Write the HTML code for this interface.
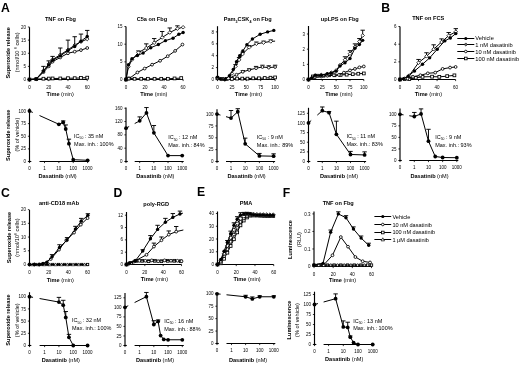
<!DOCTYPE html>
<html><head><meta charset="utf-8"><style>
html,body{margin:0;padding:0;background:#fff;width:520px;height:366px;overflow:hidden}
svg{display:block;will-change:transform;filter:blur(0.3px)}
text{font-family:"Liberation Sans",sans-serif}
</style></head><body>
<svg width="520" height="366" viewBox="0 0 520 366" font-family="Liberation Sans, sans-serif">
<rect width="520" height="366" fill="#fff"/>
<text x="1.10" y="11.70" font-size="12.2" text-anchor="start" font-weight="bold" fill="#000">A</text>
<text x="381.30" y="12.10" font-size="12.2" text-anchor="start" font-weight="bold" fill="#000">B</text>
<text x="1.00" y="197.00" font-size="12.2" text-anchor="start" font-weight="bold" fill="#000">C</text>
<text x="113.40" y="196.60" font-size="12.2" text-anchor="start" font-weight="bold" fill="#000">D</text>
<text x="197.00" y="196.40" font-size="12.2" text-anchor="start" font-weight="bold" fill="#000">E</text>
<text x="282.80" y="196.70" font-size="12.2" text-anchor="start" font-weight="bold" fill="#000">F</text>
<text x="60.50" y="20.80" font-size="5.6" text-anchor="middle" font-weight="bold" fill="#000">TNF on Fbg</text>
<text x="151.90" y="21.40" font-size="5.6" text-anchor="middle" font-weight="bold" fill="#000">C5a on Fbg</text>
<text x="247.7" y="21.4" font-size="5.6" text-anchor="middle" font-weight="bold">Pam<tspan font-size="3.6" dy="1.2">3</tspan><tspan dy="-1.2">CSK</tspan><tspan font-size="3.6" dy="1.2">4</tspan><tspan dy="-1.2"> on Fbg</tspan></text>
<text x="339.80" y="21.40" font-size="5.6" text-anchor="middle" font-weight="bold" fill="#000">upLPS on Fbg</text>
<text x="428.20" y="20.30" font-size="5.6" text-anchor="middle" font-weight="bold" fill="#000">TNF on FCS</text>
<text x="59.00" y="204.60" font-size="5.6" text-anchor="middle" font-weight="bold" fill="#000">anti-CD18 mAb</text>
<text x="156.20" y="205.70" font-size="5.6" text-anchor="middle" font-weight="bold" fill="#000">poly-RGD</text>
<text x="246.00" y="205.30" font-size="5.6" text-anchor="middle" font-weight="bold" fill="#000">PMA</text>
<text x="338.20" y="205.00" font-size="5.6" text-anchor="middle" font-weight="bold" fill="#000">TNF on Fbg</text>
<text x="9.70" y="52.80" font-size="5.6" text-anchor="middle" font-weight="bold" transform="rotate(-90 9.70 52.80)" fill="#000">Superoxide release</text>
<text x="18.7" y="52.4" font-size="5.6" text-anchor="middle" transform="rotate(-90 18.7 52.4)">(nmol/10 <tspan font-size="3.6" dy="-2">6</tspan><tspan dy="2"> cells)</tspan></text>
<text x="10.30" y="135.30" font-size="5.6" text-anchor="middle" font-weight="bold" transform="rotate(-90 10.30 135.30)" fill="#000">Superoxide release</text>
<text x="18.90" y="134.60" font-size="5.6" text-anchor="middle" transform="rotate(-90 18.90 134.60)" fill="#000">(% of vehicle)</text>
<text x="10.60" y="237.50" font-size="5.6" text-anchor="middle" font-weight="bold" transform="rotate(-90 10.60 237.50)" fill="#000">Superoxide release</text>
<text x="19.2" y="237.5" font-size="5.6" text-anchor="middle" transform="rotate(-90 19.2 237.5)">(nmol/10<tspan font-size="3.6" dy="-2">6</tspan><tspan dy="2"> cells)</tspan></text>
<text x="10.30" y="320.00" font-size="5.6" text-anchor="middle" font-weight="bold" transform="rotate(-90 10.30 320.00)" fill="#000">Superoxide release</text>
<text x="18.60" y="320.20" font-size="5.6" text-anchor="middle" transform="rotate(-90 18.60 320.20)" fill="#000">(% of vehicle)</text>
<text x="292.00" y="239.50" font-size="5.6" text-anchor="middle" font-weight="bold" transform="rotate(-90 292.00 239.50)" fill="#000">Luminescence</text>
<text x="300.50" y="239.50" font-size="5.6" text-anchor="middle" transform="rotate(-90 300.50 239.50)" fill="#000">(RLU)</text>
<text x="291.40" y="320.00" font-size="5.6" text-anchor="middle" font-weight="bold" transform="rotate(-90 291.40 320.00)" fill="#000">Luminescence</text>
<text x="298.80" y="320.00" font-size="5.6" text-anchor="middle" transform="rotate(-90 298.80 320.00)" fill="#000">(% of vehicle)</text>
<text x="60.20" y="96.20" font-size="5.6" text-anchor="middle"><tspan font-weight="bold">Time</tspan> (min)</text>
<text x="153.80" y="96.40" font-size="5.6" text-anchor="middle"><tspan font-weight="bold">Time</tspan> (min)</text>
<text x="248.50" y="96.40" font-size="5.6" text-anchor="middle"><tspan font-weight="bold">Time</tspan> (min)</text>
<text x="338.90" y="96.40" font-size="5.6" text-anchor="middle"><tspan font-weight="bold">Time</tspan> (min)</text>
<text x="428.40" y="95.90" font-size="5.6" text-anchor="middle"><tspan font-weight="bold">Time</tspan> (min)</text>
<text x="60.30" y="281.50" font-size="5.6" text-anchor="middle"><tspan font-weight="bold">Time</tspan> (min)</text>
<text x="154.40" y="281.20" font-size="5.6" text-anchor="middle"><tspan font-weight="bold">Time</tspan> (min)</text>
<text x="247.10" y="281.20" font-size="5.6" text-anchor="middle"><tspan font-weight="bold">Time</tspan> (min)</text>
<text x="342.60" y="281.80" font-size="5.6" text-anchor="middle"><tspan font-weight="bold">Time</tspan> (min)</text>
<text x="57.60" y="177.90" font-size="5.6" text-anchor="middle"><tspan font-weight="bold">Dasatinib</tspan> (nM)</text>
<text x="155.30" y="177.90" font-size="5.6" text-anchor="middle"><tspan font-weight="bold">Dasatinib</tspan> (nM)</text>
<text x="246.60" y="177.90" font-size="5.6" text-anchor="middle"><tspan font-weight="bold">Dasatinib</tspan> (nM)</text>
<text x="339.00" y="177.90" font-size="5.6" text-anchor="middle"><tspan font-weight="bold">Dasatinib</tspan> (nM)</text>
<text x="429.50" y="177.90" font-size="5.6" text-anchor="middle"><tspan font-weight="bold">Dasatinib</tspan> (nM)</text>
<text x="60.80" y="362.30" font-size="5.6" text-anchor="middle"><tspan font-weight="bold">Dasatinib</tspan> (nM)</text>
<text x="155.00" y="362.30" font-size="5.6" text-anchor="middle"><tspan font-weight="bold">Dasatinib</tspan> (nM)</text>
<text x="248.10" y="362.00" font-size="5.6" text-anchor="middle"><tspan font-weight="bold">Dasatinib</tspan> (nM)</text>
<text x="344.20" y="361.20" font-size="5.6" text-anchor="middle"><tspan font-weight="bold">Dasatinib</tspan> (nM)</text>
<text x="74.10" y="137.90" font-size="5.5">IC<tspan font-size="3.4" dy="1.3">50</tspan><tspan dy="-1.3"> : 35 nM</tspan></text>
<text x="74.10" y="145.70" font-size="5.5">Max. inh.: 100%</text>
<text x="168.20" y="139.40" font-size="5.5">IC<tspan font-size="3.4" dy="1.3">50</tspan><tspan dy="-1.3"> : 12 nM</tspan></text>
<text x="168.20" y="147.20" font-size="5.5">Max. inh.: 84%</text>
<text x="256.80" y="138.90" font-size="5.5">IC<tspan font-size="3.4" dy="1.3">50</tspan><tspan dy="-1.3"> : 9 nM</tspan></text>
<text x="256.80" y="146.70" font-size="5.5">Max. inh.: 89%</text>
<text x="346.40" y="138.40" font-size="5.5">IC<tspan font-size="3.4" dy="1.3">50</tspan><tspan dy="-1.3"> : 11 nM</tspan></text>
<text x="346.40" y="146.20" font-size="5.5">Max. inh.: 83%</text>
<text x="435.20" y="138.90" font-size="5.5">IC<tspan font-size="3.4" dy="1.3">50</tspan><tspan dy="-1.3"> : 9 nM</tspan></text>
<text x="435.20" y="146.70" font-size="5.5">Max. inh.: 93%</text>
<text x="72.00" y="322.30" font-size="5.5">IC<tspan font-size="3.4" dy="1.3">50</tspan><tspan dy="-1.3"> : 32 nM</tspan></text>
<text x="72.00" y="330.10" font-size="5.5">Max. inh.: 100%</text>
<text x="164.20" y="322.90" font-size="5.5">IC<tspan font-size="3.4" dy="1.3">50</tspan><tspan dy="-1.3"> : 16 nM</tspan></text>
<text x="164.20" y="330.70" font-size="5.5">Max. inh.: 88%</text>
<text x="353.20" y="322.50" font-size="5.5">IC<tspan font-size="3.4" dy="1.3">50</tspan><tspan dy="-1.3"> : 13 nM</tspan></text>
<text x="353.20" y="330.30" font-size="5.5">Max. inh.: 100%</text>
<line x1="457.30" y1="38.50" x2="474.30" y2="38.50" stroke="#000" stroke-width="1.0"/>
<circle cx="465.80" cy="38.50" r="1.60" fill="#000"/>
<text x="475.30" y="40.30" font-size="5.75" text-anchor="start" fill="#000">Vehicle</text>
<line x1="457.30" y1="44.50" x2="474.30" y2="44.50" stroke="#000" stroke-width="1.0"/>
<polygon points="465.80,42.90 467.40,44.50 465.80,46.10 464.20,44.50" fill="#666" stroke="#000" stroke-width="0.6"/>
<text x="475.30" y="47.00" font-size="5.75" text-anchor="start" fill="#000">1 nM dasatinib</text>
<line x1="457.30" y1="51.50" x2="474.30" y2="51.50" stroke="#000" stroke-width="1.0"/>
<circle cx="465.80" cy="51.50" r="1.30" fill="#fff" stroke="#000" stroke-width="0.85"/>
<text x="475.30" y="53.80" font-size="5.75" text-anchor="start" fill="#000">10 nM dasatinib</text>
<line x1="457.30" y1="58.50" x2="474.30" y2="58.50" stroke="#000" stroke-width="1.0"/>
<rect x="464.50" y="57.20" width="2.60" height="2.60" fill="#fff" stroke="#000" stroke-width="0.85"/>
<text x="475.30" y="60.60" font-size="5.75" text-anchor="start" fill="#000">100 nM dasatinib</text>
<line x1="374.40" y1="216.50" x2="391.20" y2="216.50" stroke="#000" stroke-width="1.0"/>
<circle cx="382.80" cy="216.50" r="1.60" fill="#000"/>
<text x="392.40" y="219.00" font-size="5.6" text-anchor="start" fill="#000">Vehicle</text>
<line x1="374.40" y1="224.50" x2="391.20" y2="224.50" stroke="#000" stroke-width="1.0"/>
<circle cx="382.80" cy="224.50" r="1.30" fill="#fff" stroke="#000" stroke-width="0.85"/>
<text x="392.40" y="226.50" font-size="5.6" text-anchor="start" fill="#000">10 nM dasatinib</text>
<line x1="374.40" y1="232.50" x2="391.20" y2="232.50" stroke="#000" stroke-width="1.0"/>
<rect x="381.50" y="231.20" width="2.60" height="2.60" fill="#fff" stroke="#000" stroke-width="0.85"/>
<text x="392.40" y="234.10" font-size="5.6" text-anchor="start" fill="#000">100 nM dasatinib</text>
<line x1="374.40" y1="239.50" x2="391.20" y2="239.50" stroke="#000" stroke-width="1.0"/>
<polygon points="382.80,237.80 384.50,240.86 381.10,240.86" fill="#fff" stroke="#000" stroke-width="0.7"/>
<text x="392.40" y="241.70" font-size="5.6" text-anchor="start" fill="#000">1 &#956;M dasatinib</text>
<line x1="29.50" y1="27.20" x2="29.50" y2="80.10" stroke="#000" stroke-width="1.15"/>
<line x1="28.90" y1="79.50" x2="87.22" y2="79.50" stroke="#000" stroke-width="1.15"/>
<line x1="27.90" y1="79.50" x2="29.50" y2="79.50" stroke="#000" stroke-width="0.8"/>
<text x="26.10" y="81.10" font-size="4.5" text-anchor="end" fill="#000">0</text>
<line x1="27.90" y1="66.38" x2="29.50" y2="66.38" stroke="#000" stroke-width="0.8"/>
<text x="26.10" y="67.97" font-size="4.5" text-anchor="end" fill="#000">5</text>
<line x1="27.90" y1="53.25" x2="29.50" y2="53.25" stroke="#000" stroke-width="0.8"/>
<text x="26.10" y="54.85" font-size="4.5" text-anchor="end" fill="#000">10</text>
<line x1="27.90" y1="40.12" x2="29.50" y2="40.12" stroke="#000" stroke-width="0.8"/>
<text x="26.10" y="41.73" font-size="4.5" text-anchor="end" fill="#000">15</text>
<line x1="27.90" y1="27.00" x2="29.50" y2="27.00" stroke="#000" stroke-width="0.8"/>
<text x="26.10" y="28.60" font-size="4.5" text-anchor="end" fill="#000">20</text>
<line x1="29.50" y1="79.50" x2="29.50" y2="81.10" stroke="#000" stroke-width="0.8"/>
<text x="29.50" y="88.60" font-size="4.5" text-anchor="middle" fill="#000">0</text>
<line x1="48.74" y1="79.50" x2="48.74" y2="81.10" stroke="#000" stroke-width="0.8"/>
<text x="48.74" y="88.60" font-size="4.5" text-anchor="middle" fill="#000">20</text>
<line x1="67.98" y1="79.50" x2="67.98" y2="81.10" stroke="#000" stroke-width="0.8"/>
<text x="67.98" y="88.60" font-size="4.5" text-anchor="middle" fill="#000">40</text>
<line x1="87.22" y1="79.50" x2="87.22" y2="81.10" stroke="#000" stroke-width="0.8"/>
<text x="87.22" y="88.60" font-size="4.5" text-anchor="middle" fill="#000">60</text>
<polyline points="29.50,79.50 36.23,79.11 43.45,78.71 48.74,78.58 52.59,78.45 60.28,78.45 67.98,78.19 74.71,78.19 80.97,77.92 87.22,77.66" fill="none" stroke="#000" stroke-width="1.0" stroke-linejoin="round"/>
<rect x="28.10" y="78.10" width="2.80" height="2.80" fill="#fff" stroke="#000" stroke-width="0.85"/>
<rect x="34.83" y="77.71" width="2.80" height="2.80" fill="#fff" stroke="#000" stroke-width="0.85"/>
<rect x="42.05" y="77.31" width="2.80" height="2.80" fill="#fff" stroke="#000" stroke-width="0.85"/>
<rect x="47.34" y="77.18" width="2.80" height="2.80" fill="#fff" stroke="#000" stroke-width="0.85"/>
<rect x="51.19" y="77.05" width="2.80" height="2.80" fill="#fff" stroke="#000" stroke-width="0.85"/>
<rect x="58.88" y="77.05" width="2.80" height="2.80" fill="#fff" stroke="#000" stroke-width="0.85"/>
<rect x="66.58" y="76.79" width="2.80" height="2.80" fill="#fff" stroke="#000" stroke-width="0.85"/>
<rect x="73.31" y="76.79" width="2.80" height="2.80" fill="#fff" stroke="#000" stroke-width="0.85"/>
<rect x="79.57" y="76.52" width="2.80" height="2.80" fill="#fff" stroke="#000" stroke-width="0.85"/>
<rect x="85.82" y="76.26" width="2.80" height="2.80" fill="#fff" stroke="#000" stroke-width="0.85"/>
<polyline points="29.50,79.50 36.23,79.24 43.45,72.15 48.74,66.38 52.59,61.65 60.28,57.45 67.98,53.25 74.71,51.67 80.97,50.10 87.22,48.00" fill="none" stroke="#000" stroke-width="1.0" stroke-linejoin="round"/>
<circle cx="29.50" cy="79.50" r="1.40" fill="#fff" stroke="#000" stroke-width="0.85"/>
<circle cx="36.23" cy="79.24" r="1.40" fill="#fff" stroke="#000" stroke-width="0.85"/>
<circle cx="43.45" cy="72.15" r="1.40" fill="#fff" stroke="#000" stroke-width="0.85"/>
<circle cx="48.74" cy="66.38" r="1.40" fill="#fff" stroke="#000" stroke-width="0.85"/>
<circle cx="52.59" cy="61.65" r="1.40" fill="#fff" stroke="#000" stroke-width="0.85"/>
<circle cx="60.28" cy="57.45" r="1.40" fill="#fff" stroke="#000" stroke-width="0.85"/>
<circle cx="67.98" cy="53.25" r="1.40" fill="#fff" stroke="#000" stroke-width="0.85"/>
<circle cx="74.71" cy="51.67" r="1.40" fill="#fff" stroke="#000" stroke-width="0.85"/>
<circle cx="80.97" cy="50.10" r="1.40" fill="#fff" stroke="#000" stroke-width="0.85"/>
<circle cx="87.22" cy="48.00" r="1.40" fill="#fff" stroke="#000" stroke-width="0.85"/>
<polyline points="29.50,79.50 36.23,78.97 43.45,70.84 48.74,64.01 52.59,59.55 60.28,54.83 67.98,49.84 74.71,45.11 80.97,41.70 87.22,39.07" fill="none" stroke="#000" stroke-width="1.0" stroke-linejoin="round"/>
<polygon points="29.50,77.70 31.30,79.50 29.50,81.30 27.70,79.50" fill="#fff" stroke="#000" stroke-width="0.75"/>
<polygon points="36.23,77.17 38.03,78.97 36.23,80.77 34.43,78.97" fill="#fff" stroke="#000" stroke-width="0.75"/>
<polygon points="43.45,69.04 45.25,70.84 43.45,72.64 41.65,70.84" fill="#fff" stroke="#000" stroke-width="0.75"/>
<polygon points="48.74,62.21 50.54,64.01 48.74,65.81 46.94,64.01" fill="#fff" stroke="#000" stroke-width="0.75"/>
<polygon points="52.59,57.75 54.39,59.55 52.59,61.35 50.79,59.55" fill="#fff" stroke="#000" stroke-width="0.75"/>
<polygon points="60.28,53.03 62.08,54.83 60.28,56.62 58.48,54.83" fill="#fff" stroke="#000" stroke-width="0.75"/>
<polygon points="67.98,48.04 69.78,49.84 67.98,51.64 66.18,49.84" fill="#fff" stroke="#000" stroke-width="0.75"/>
<polygon points="74.71,43.31 76.51,45.11 74.71,46.91 72.91,45.11" fill="#fff" stroke="#000" stroke-width="0.75"/>
<polygon points="80.97,39.90 82.77,41.70 80.97,43.50 79.17,41.70" fill="#fff" stroke="#000" stroke-width="0.75"/>
<polygon points="87.22,37.27 89.02,39.07 87.22,40.87 85.42,39.07" fill="#fff" stroke="#000" stroke-width="0.75"/>
<line x1="43.45" y1="71.10" x2="43.45" y2="66.38" stroke="#000" stroke-width="0.95"/>
<line x1="41.25" y1="66.38" x2="45.65" y2="66.38" stroke="#000" stroke-width="0.95"/>
<line x1="48.74" y1="65.06" x2="48.74" y2="60.86" stroke="#000" stroke-width="0.95"/>
<line x1="46.54" y1="60.86" x2="50.94" y2="60.86" stroke="#000" stroke-width="0.95"/>
<line x1="52.59" y1="60.34" x2="52.59" y2="56.40" stroke="#000" stroke-width="0.95"/>
<line x1="50.39" y1="56.40" x2="54.79" y2="56.40" stroke="#000" stroke-width="0.95"/>
<line x1="60.28" y1="55.88" x2="60.28" y2="48.00" stroke="#000" stroke-width="0.95"/>
<line x1="58.08" y1="48.00" x2="62.48" y2="48.00" stroke="#000" stroke-width="0.95"/>
<line x1="67.98" y1="50.62" x2="67.98" y2="40.12" stroke="#000" stroke-width="0.95"/>
<line x1="65.78" y1="40.12" x2="70.18" y2="40.12" stroke="#000" stroke-width="0.95"/>
<line x1="74.71" y1="46.43" x2="74.71" y2="36.71" stroke="#000" stroke-width="0.95"/>
<line x1="72.51" y1="36.71" x2="76.91" y2="36.71" stroke="#000" stroke-width="0.95"/>
<line x1="80.97" y1="41.18" x2="80.97" y2="34.09" stroke="#000" stroke-width="0.95"/>
<line x1="78.77" y1="34.09" x2="83.17" y2="34.09" stroke="#000" stroke-width="0.95"/>
<line x1="87.22" y1="36.45" x2="87.22" y2="30.41" stroke="#000" stroke-width="0.95"/>
<line x1="85.02" y1="30.41" x2="89.42" y2="30.41" stroke="#000" stroke-width="0.95"/>
<polyline points="29.50,79.50 36.23,78.97 43.45,71.10 48.74,65.06 52.59,60.34 60.28,55.88 67.98,50.62 74.71,46.43 80.97,41.18 87.22,36.45" fill="none" stroke="#000" stroke-width="1.0" stroke-linejoin="round"/>
<circle cx="29.50" cy="79.50" r="1.70" fill="#000"/>
<circle cx="36.23" cy="78.97" r="1.70" fill="#000"/>
<circle cx="43.45" cy="71.10" r="1.70" fill="#000"/>
<circle cx="48.74" cy="65.06" r="1.70" fill="#000"/>
<circle cx="52.59" cy="60.34" r="1.70" fill="#000"/>
<circle cx="60.28" cy="55.88" r="1.70" fill="#000"/>
<circle cx="67.98" cy="50.62" r="1.70" fill="#000"/>
<circle cx="74.71" cy="46.43" r="1.70" fill="#000"/>
<circle cx="80.97" cy="41.18" r="1.70" fill="#000"/>
<circle cx="87.22" cy="36.45" r="1.70" fill="#000"/>
<line x1="126.00" y1="26.40" x2="126.00" y2="80.10" stroke="#000" stroke-width="1.15"/>
<line x1="125.40" y1="79.50" x2="183.12" y2="79.50" stroke="#000" stroke-width="1.15"/>
<line x1="124.40" y1="79.50" x2="126.00" y2="79.50" stroke="#000" stroke-width="0.8"/>
<text x="122.60" y="81.10" font-size="4.5" text-anchor="end" fill="#000">0</text>
<line x1="124.40" y1="61.85" x2="126.00" y2="61.85" stroke="#000" stroke-width="0.8"/>
<text x="122.60" y="63.45" font-size="4.5" text-anchor="end" fill="#000">5</text>
<line x1="124.40" y1="44.20" x2="126.00" y2="44.20" stroke="#000" stroke-width="0.8"/>
<text x="122.60" y="45.80" font-size="4.5" text-anchor="end" fill="#000">10</text>
<line x1="124.40" y1="26.55" x2="126.00" y2="26.55" stroke="#000" stroke-width="0.8"/>
<text x="122.60" y="28.15" font-size="4.5" text-anchor="end" fill="#000">15</text>
<line x1="126.00" y1="79.50" x2="126.00" y2="81.10" stroke="#000" stroke-width="0.8"/>
<text x="126.00" y="88.60" font-size="4.5" text-anchor="middle" fill="#000">0</text>
<line x1="145.04" y1="79.50" x2="145.04" y2="81.10" stroke="#000" stroke-width="0.8"/>
<text x="145.04" y="88.60" font-size="4.5" text-anchor="middle" fill="#000">20</text>
<line x1="164.08" y1="79.50" x2="164.08" y2="81.10" stroke="#000" stroke-width="0.8"/>
<text x="164.08" y="88.60" font-size="4.5" text-anchor="middle" fill="#000">40</text>
<line x1="183.12" y1="79.50" x2="183.12" y2="81.10" stroke="#000" stroke-width="0.8"/>
<text x="183.12" y="88.60" font-size="4.5" text-anchor="middle" fill="#000">60</text>
<polyline points="126.00,79.50 128.86,78.44 134.57,78.79 141.23,78.79 147.90,78.79 154.56,78.79 161.22,78.79 167.89,78.79 174.55,78.44 181.22,78.09" fill="none" stroke="#000" stroke-width="1.0" stroke-linejoin="round"/>
<rect x="124.60" y="78.10" width="2.80" height="2.80" fill="#fff" stroke="#000" stroke-width="0.85"/>
<rect x="127.46" y="77.04" width="2.80" height="2.80" fill="#fff" stroke="#000" stroke-width="0.85"/>
<rect x="133.17" y="77.39" width="2.80" height="2.80" fill="#fff" stroke="#000" stroke-width="0.85"/>
<rect x="139.83" y="77.39" width="2.80" height="2.80" fill="#fff" stroke="#000" stroke-width="0.85"/>
<rect x="146.50" y="77.39" width="2.80" height="2.80" fill="#fff" stroke="#000" stroke-width="0.85"/>
<rect x="153.16" y="77.39" width="2.80" height="2.80" fill="#fff" stroke="#000" stroke-width="0.85"/>
<rect x="159.82" y="77.39" width="2.80" height="2.80" fill="#fff" stroke="#000" stroke-width="0.85"/>
<rect x="166.49" y="77.39" width="2.80" height="2.80" fill="#fff" stroke="#000" stroke-width="0.85"/>
<rect x="173.15" y="77.04" width="2.80" height="2.80" fill="#fff" stroke="#000" stroke-width="0.85"/>
<rect x="179.82" y="76.69" width="2.80" height="2.80" fill="#fff" stroke="#000" stroke-width="0.85"/>
<polyline points="126.00,79.50 128.86,78.79 137.42,72.44 144.66,68.56 152.08,64.67 160.08,60.79 167.70,56.20 175.12,50.91 182.45,44.55" fill="none" stroke="#000" stroke-width="1.0" stroke-linejoin="round"/>
<circle cx="126.00" cy="79.50" r="1.40" fill="#fff" stroke="#000" stroke-width="0.85"/>
<circle cx="128.86" cy="78.79" r="1.40" fill="#fff" stroke="#000" stroke-width="0.85"/>
<circle cx="137.42" cy="72.44" r="1.40" fill="#fff" stroke="#000" stroke-width="0.85"/>
<circle cx="144.66" cy="68.56" r="1.40" fill="#fff" stroke="#000" stroke-width="0.85"/>
<circle cx="152.08" cy="64.67" r="1.40" fill="#fff" stroke="#000" stroke-width="0.85"/>
<circle cx="160.08" cy="60.79" r="1.40" fill="#fff" stroke="#000" stroke-width="0.85"/>
<circle cx="167.70" cy="56.20" r="1.40" fill="#fff" stroke="#000" stroke-width="0.85"/>
<circle cx="175.12" cy="50.91" r="1.40" fill="#fff" stroke="#000" stroke-width="0.85"/>
<circle cx="182.45" cy="44.55" r="1.40" fill="#fff" stroke="#000" stroke-width="0.85"/>
<line x1="138.38" y1="52.67" x2="138.38" y2="50.91" stroke="#000" stroke-width="0.95"/>
<line x1="136.18" y1="50.91" x2="140.58" y2="50.91" stroke="#000" stroke-width="0.95"/>
<line x1="146.28" y1="48.08" x2="146.28" y2="43.85" stroke="#000" stroke-width="0.95"/>
<line x1="144.08" y1="43.85" x2="148.48" y2="43.85" stroke="#000" stroke-width="0.95"/>
<line x1="154.18" y1="42.79" x2="154.18" y2="38.55" stroke="#000" stroke-width="0.95"/>
<line x1="151.98" y1="38.55" x2="156.38" y2="38.55" stroke="#000" stroke-width="0.95"/>
<line x1="162.18" y1="37.49" x2="162.18" y2="31.49" stroke="#000" stroke-width="0.95"/>
<line x1="159.98" y1="31.49" x2="164.38" y2="31.49" stroke="#000" stroke-width="0.95"/>
<line x1="169.79" y1="32.55" x2="169.79" y2="27.96" stroke="#000" stroke-width="0.95"/>
<line x1="167.59" y1="27.96" x2="171.99" y2="27.96" stroke="#000" stroke-width="0.95"/>
<line x1="177.41" y1="28.67" x2="177.41" y2="25.84" stroke="#000" stroke-width="0.95"/>
<line x1="175.21" y1="25.84" x2="179.61" y2="25.84" stroke="#000" stroke-width="0.95"/>
<polyline points="126.00,79.50 128.48,66.79 132.00,59.73 138.38,52.67 146.28,48.08 154.18,42.79 162.18,37.49 169.79,32.55 177.41,28.67 183.12,27.26" fill="none" stroke="#000" stroke-width="1.0" stroke-linejoin="round"/>
<polygon points="126.00,77.70 127.80,79.50 126.00,81.30 124.20,79.50" fill="#fff" stroke="#000" stroke-width="0.75"/>
<polygon points="128.48,64.99 130.28,66.79 128.48,68.59 126.68,66.79" fill="#fff" stroke="#000" stroke-width="0.75"/>
<polygon points="132.00,57.93 133.80,59.73 132.00,61.53 130.20,59.73" fill="#fff" stroke="#000" stroke-width="0.75"/>
<polygon points="138.38,50.87 140.18,52.67 138.38,54.47 136.58,52.67" fill="#fff" stroke="#000" stroke-width="0.75"/>
<polygon points="146.28,46.28 148.08,48.08 146.28,49.88 144.48,48.08" fill="#fff" stroke="#000" stroke-width="0.75"/>
<polygon points="154.18,40.99 155.98,42.79 154.18,44.59 152.38,42.79" fill="#fff" stroke="#000" stroke-width="0.75"/>
<polygon points="162.18,35.69 163.98,37.49 162.18,39.29 160.38,37.49" fill="#fff" stroke="#000" stroke-width="0.75"/>
<polygon points="169.79,30.75 171.59,32.55 169.79,34.35 167.99,32.55" fill="#fff" stroke="#000" stroke-width="0.75"/>
<polygon points="177.41,26.87 179.21,28.67 177.41,30.47 175.61,28.67" fill="#fff" stroke="#000" stroke-width="0.75"/>
<polygon points="183.12,25.46 184.92,27.26 183.12,29.06 181.32,27.26" fill="#fff" stroke="#000" stroke-width="0.75"/>
<polyline points="126.00,79.50 128.48,64.67 132.00,58.67 137.42,55.50 143.14,53.03 150.75,47.73 158.37,44.55 165.41,40.67 173.03,38.20 178.84,34.32 183.12,32.55" fill="none" stroke="#000" stroke-width="1.0" stroke-linejoin="round"/>
<circle cx="126.00" cy="79.50" r="1.70" fill="#000"/>
<circle cx="128.48" cy="64.67" r="1.70" fill="#000"/>
<circle cx="132.00" cy="58.67" r="1.70" fill="#000"/>
<circle cx="137.42" cy="55.50" r="1.70" fill="#000"/>
<circle cx="143.14" cy="53.03" r="1.70" fill="#000"/>
<circle cx="150.75" cy="47.73" r="1.70" fill="#000"/>
<circle cx="158.37" cy="44.55" r="1.70" fill="#000"/>
<circle cx="165.41" cy="40.67" r="1.70" fill="#000"/>
<circle cx="173.03" cy="38.20" r="1.70" fill="#000"/>
<circle cx="178.84" cy="34.32" r="1.70" fill="#000"/>
<circle cx="183.12" cy="32.55" r="1.70" fill="#000"/>
<line x1="217.50" y1="26.20" x2="217.50" y2="80.10" stroke="#000" stroke-width="1.15"/>
<line x1="216.90" y1="79.50" x2="275.10" y2="79.50" stroke="#000" stroke-width="1.15"/>
<line x1="215.90" y1="79.50" x2="217.50" y2="79.50" stroke="#000" stroke-width="0.8"/>
<text x="214.10" y="81.10" font-size="4.5" text-anchor="end" fill="#000">0</text>
<line x1="215.90" y1="67.60" x2="217.50" y2="67.60" stroke="#000" stroke-width="0.8"/>
<text x="214.10" y="69.20" font-size="4.5" text-anchor="end" fill="#000">2</text>
<line x1="215.90" y1="55.70" x2="217.50" y2="55.70" stroke="#000" stroke-width="0.8"/>
<text x="214.10" y="57.30" font-size="4.5" text-anchor="end" fill="#000">4</text>
<line x1="215.90" y1="43.80" x2="217.50" y2="43.80" stroke="#000" stroke-width="0.8"/>
<text x="214.10" y="45.40" font-size="4.5" text-anchor="end" fill="#000">6</text>
<line x1="215.90" y1="31.90" x2="217.50" y2="31.90" stroke="#000" stroke-width="0.8"/>
<text x="214.10" y="33.50" font-size="4.5" text-anchor="end" fill="#000">8</text>
<line x1="217.50" y1="79.50" x2="217.50" y2="81.10" stroke="#000" stroke-width="0.8"/>
<text x="217.50" y="88.60" font-size="4.5" text-anchor="middle" fill="#000">0</text>
<line x1="231.90" y1="79.50" x2="231.90" y2="81.10" stroke="#000" stroke-width="0.8"/>
<text x="231.90" y="88.60" font-size="4.5" text-anchor="middle" fill="#000">25</text>
<line x1="246.30" y1="79.50" x2="246.30" y2="81.10" stroke="#000" stroke-width="0.8"/>
<text x="246.30" y="88.60" font-size="4.5" text-anchor="middle" fill="#000">50</text>
<line x1="260.70" y1="79.50" x2="260.70" y2="81.10" stroke="#000" stroke-width="0.8"/>
<text x="260.70" y="88.60" font-size="4.5" text-anchor="middle" fill="#000">75</text>
<line x1="275.10" y1="79.50" x2="275.10" y2="81.10" stroke="#000" stroke-width="0.8"/>
<text x="275.10" y="88.60" font-size="4.5" text-anchor="middle" fill="#000">100</text>
<polyline points="217.50,78.31 222.11,78.91 226.72,78.91 231.90,78.91 237.08,78.61 242.27,78.61 247.45,78.61 253.21,78.31 258.97,78.31 264.73,78.01 270.49,77.72 275.10,77.42" fill="none" stroke="#000" stroke-width="1.0" stroke-linejoin="round"/>
<rect x="216.10" y="76.91" width="2.80" height="2.80" fill="#fff" stroke="#000" stroke-width="0.85"/>
<rect x="220.71" y="77.50" width="2.80" height="2.80" fill="#fff" stroke="#000" stroke-width="0.85"/>
<rect x="225.32" y="77.50" width="2.80" height="2.80" fill="#fff" stroke="#000" stroke-width="0.85"/>
<rect x="230.50" y="77.50" width="2.80" height="2.80" fill="#fff" stroke="#000" stroke-width="0.85"/>
<rect x="235.68" y="77.21" width="2.80" height="2.80" fill="#fff" stroke="#000" stroke-width="0.85"/>
<rect x="240.87" y="77.21" width="2.80" height="2.80" fill="#fff" stroke="#000" stroke-width="0.85"/>
<rect x="246.05" y="77.21" width="2.80" height="2.80" fill="#fff" stroke="#000" stroke-width="0.85"/>
<rect x="251.81" y="76.91" width="2.80" height="2.80" fill="#fff" stroke="#000" stroke-width="0.85"/>
<rect x="257.57" y="76.91" width="2.80" height="2.80" fill="#fff" stroke="#000" stroke-width="0.85"/>
<rect x="263.33" y="76.61" width="2.80" height="2.80" fill="#fff" stroke="#000" stroke-width="0.85"/>
<rect x="269.09" y="76.31" width="2.80" height="2.80" fill="#fff" stroke="#000" stroke-width="0.85"/>
<rect x="273.70" y="76.02" width="2.80" height="2.80" fill="#fff" stroke="#000" stroke-width="0.85"/>
<line x1="242.84" y1="71.77" x2="242.84" y2="70.58" stroke="#000" stroke-width="0.95"/>
<line x1="240.64" y1="70.58" x2="245.04" y2="70.58" stroke="#000" stroke-width="0.95"/>
<line x1="249.18" y1="69.98" x2="249.18" y2="68.79" stroke="#000" stroke-width="0.95"/>
<line x1="246.98" y1="68.79" x2="251.38" y2="68.79" stroke="#000" stroke-width="0.95"/>
<line x1="256.09" y1="68.19" x2="256.09" y2="66.41" stroke="#000" stroke-width="0.95"/>
<line x1="253.89" y1="66.41" x2="258.29" y2="66.41" stroke="#000" stroke-width="0.95"/>
<line x1="262.43" y1="67.00" x2="262.43" y2="65.22" stroke="#000" stroke-width="0.95"/>
<line x1="260.23" y1="65.22" x2="264.63" y2="65.22" stroke="#000" stroke-width="0.95"/>
<line x1="268.76" y1="67.60" x2="268.76" y2="65.81" stroke="#000" stroke-width="0.95"/>
<line x1="266.56" y1="65.81" x2="270.96" y2="65.81" stroke="#000" stroke-width="0.95"/>
<line x1="275.10" y1="67.00" x2="275.10" y2="65.22" stroke="#000" stroke-width="0.95"/>
<line x1="272.90" y1="65.22" x2="277.30" y2="65.22" stroke="#000" stroke-width="0.95"/>
<polyline points="217.50,78.31 223.26,78.91 229.02,78.31 236.51,74.74 242.84,71.77 249.18,69.98 256.09,68.19 262.43,67.00 268.76,67.60 275.10,67.00" fill="none" stroke="#000" stroke-width="1.0" stroke-linejoin="round"/>
<circle cx="217.50" cy="78.31" r="1.40" fill="#fff" stroke="#000" stroke-width="0.85"/>
<circle cx="223.26" cy="78.91" r="1.40" fill="#fff" stroke="#000" stroke-width="0.85"/>
<circle cx="229.02" cy="78.31" r="1.40" fill="#fff" stroke="#000" stroke-width="0.85"/>
<circle cx="236.51" cy="74.74" r="1.40" fill="#fff" stroke="#000" stroke-width="0.85"/>
<circle cx="242.84" cy="71.77" r="1.40" fill="#fff" stroke="#000" stroke-width="0.85"/>
<circle cx="249.18" cy="69.98" r="1.40" fill="#fff" stroke="#000" stroke-width="0.85"/>
<circle cx="256.09" cy="68.19" r="1.40" fill="#fff" stroke="#000" stroke-width="0.85"/>
<circle cx="262.43" cy="67.00" r="1.40" fill="#fff" stroke="#000" stroke-width="0.85"/>
<circle cx="268.76" cy="67.60" r="1.40" fill="#fff" stroke="#000" stroke-width="0.85"/>
<circle cx="275.10" cy="67.00" r="1.40" fill="#fff" stroke="#000" stroke-width="0.85"/>
<line x1="235.50" y1="66.41" x2="235.50" y2="64.62" stroke="#000" stroke-width="0.95"/>
<line x1="233.30" y1="64.62" x2="237.70" y2="64.62" stroke="#000" stroke-width="0.95"/>
<line x1="239.10" y1="59.87" x2="239.10" y2="57.48" stroke="#000" stroke-width="0.95"/>
<line x1="236.90" y1="57.48" x2="241.30" y2="57.48" stroke="#000" stroke-width="0.95"/>
<line x1="242.70" y1="53.91" x2="242.70" y2="52.13" stroke="#000" stroke-width="0.95"/>
<line x1="240.50" y1="52.13" x2="244.90" y2="52.13" stroke="#000" stroke-width="0.95"/>
<line x1="249.18" y1="47.37" x2="249.18" y2="45.59" stroke="#000" stroke-width="0.95"/>
<line x1="246.98" y1="45.59" x2="251.38" y2="45.59" stroke="#000" stroke-width="0.95"/>
<line x1="256.38" y1="43.80" x2="256.38" y2="42.02" stroke="#000" stroke-width="0.95"/>
<line x1="254.18" y1="42.02" x2="258.58" y2="42.02" stroke="#000" stroke-width="0.95"/>
<line x1="263.58" y1="42.61" x2="263.58" y2="41.12" stroke="#000" stroke-width="0.95"/>
<line x1="261.38" y1="41.12" x2="265.78" y2="41.12" stroke="#000" stroke-width="0.95"/>
<line x1="270.78" y1="41.42" x2="270.78" y2="39.93" stroke="#000" stroke-width="0.95"/>
<line x1="268.58" y1="39.93" x2="272.98" y2="39.93" stroke="#000" stroke-width="0.95"/>
<polyline points="217.50,77.72 221.10,78.91 224.70,79.50 228.30,78.31 231.90,73.55 235.50,66.41 239.10,59.87 242.70,53.91 249.18,47.37 256.38,43.80 263.58,42.61 270.78,41.42 275.10,41.12" fill="none" stroke="#000" stroke-width="1.0" stroke-linejoin="round"/>
<polygon points="217.50,75.92 219.30,77.72 217.50,79.52 215.70,77.72" fill="#fff" stroke="#000" stroke-width="0.75"/>
<polygon points="221.10,77.11 222.90,78.91 221.10,80.70 219.30,78.91" fill="#fff" stroke="#000" stroke-width="0.75"/>
<polygon points="224.70,77.70 226.50,79.50 224.70,81.30 222.90,79.50" fill="#fff" stroke="#000" stroke-width="0.75"/>
<polygon points="228.30,76.51 230.10,78.31 228.30,80.11 226.50,78.31" fill="#fff" stroke="#000" stroke-width="0.75"/>
<polygon points="231.90,71.75 233.70,73.55 231.90,75.35 230.10,73.55" fill="#fff" stroke="#000" stroke-width="0.75"/>
<polygon points="235.50,64.61 237.30,66.41 235.50,68.21 233.70,66.41" fill="#fff" stroke="#000" stroke-width="0.75"/>
<polygon points="239.10,58.07 240.90,59.87 239.10,61.66 237.30,59.87" fill="#fff" stroke="#000" stroke-width="0.75"/>
<polygon points="242.70,52.12 244.50,53.91 242.70,55.71 240.90,53.91" fill="#fff" stroke="#000" stroke-width="0.75"/>
<polygon points="249.18,45.57 250.98,47.37 249.18,49.17 247.38,47.37" fill="#fff" stroke="#000" stroke-width="0.75"/>
<polygon points="256.38,42.00 258.18,43.80 256.38,45.60 254.58,43.80" fill="#fff" stroke="#000" stroke-width="0.75"/>
<polygon points="263.58,40.81 265.38,42.61 263.58,44.41 261.78,42.61" fill="#fff" stroke="#000" stroke-width="0.75"/>
<polygon points="270.78,39.62 272.58,41.42 270.78,43.22 268.98,41.42" fill="#fff" stroke="#000" stroke-width="0.75"/>
<polyline points="217.50,77.12 220.38,78.91 224.99,79.50 229.42,75.69 233.28,69.39 236.51,61.65 239.68,55.70 242.84,50.94 246.88,44.69 252.41,39.04 260.12,34.28 267.61,31.90 273.78,30.41" fill="none" stroke="#000" stroke-width="1.0" stroke-linejoin="round"/>
<circle cx="217.50" cy="77.12" r="1.70" fill="#000"/>
<circle cx="220.38" cy="78.91" r="1.70" fill="#000"/>
<circle cx="224.99" cy="79.50" r="1.70" fill="#000"/>
<circle cx="229.42" cy="75.69" r="1.70" fill="#000"/>
<circle cx="233.28" cy="69.39" r="1.70" fill="#000"/>
<circle cx="236.51" cy="61.65" r="1.70" fill="#000"/>
<circle cx="239.68" cy="55.70" r="1.70" fill="#000"/>
<circle cx="242.84" cy="50.94" r="1.70" fill="#000"/>
<circle cx="246.88" cy="44.69" r="1.70" fill="#000"/>
<circle cx="252.41" cy="39.04" r="1.70" fill="#000"/>
<circle cx="260.12" cy="34.28" r="1.70" fill="#000"/>
<circle cx="267.61" cy="31.90" r="1.70" fill="#000"/>
<circle cx="273.78" cy="30.41" r="1.70" fill="#000"/>
<line x1="308.50" y1="26.00" x2="308.50" y2="80.10" stroke="#000" stroke-width="1.15"/>
<line x1="307.90" y1="79.50" x2="363.80" y2="79.50" stroke="#000" stroke-width="1.15"/>
<line x1="306.90" y1="79.50" x2="308.50" y2="79.50" stroke="#000" stroke-width="0.8"/>
<text x="305.10" y="81.10" font-size="4.5" text-anchor="end" fill="#000">0</text>
<line x1="306.90" y1="64.33" x2="308.50" y2="64.33" stroke="#000" stroke-width="0.8"/>
<text x="305.10" y="65.93" font-size="4.5" text-anchor="end" fill="#000">1</text>
<line x1="306.90" y1="49.16" x2="308.50" y2="49.16" stroke="#000" stroke-width="0.8"/>
<text x="305.10" y="50.76" font-size="4.5" text-anchor="end" fill="#000">2</text>
<line x1="306.90" y1="33.99" x2="308.50" y2="33.99" stroke="#000" stroke-width="0.8"/>
<text x="305.10" y="35.59" font-size="4.5" text-anchor="end" fill="#000">3</text>
<line x1="308.50" y1="79.50" x2="308.50" y2="81.10" stroke="#000" stroke-width="0.8"/>
<text x="308.50" y="88.60" font-size="4.5" text-anchor="middle" fill="#000">0</text>
<line x1="322.32" y1="79.50" x2="322.32" y2="81.10" stroke="#000" stroke-width="0.8"/>
<text x="322.32" y="88.60" font-size="4.5" text-anchor="middle" fill="#000">25</text>
<line x1="336.15" y1="79.50" x2="336.15" y2="81.10" stroke="#000" stroke-width="0.8"/>
<text x="336.15" y="88.60" font-size="4.5" text-anchor="middle" fill="#000">50</text>
<line x1="349.98" y1="79.50" x2="349.98" y2="81.10" stroke="#000" stroke-width="0.8"/>
<text x="349.98" y="88.60" font-size="4.5" text-anchor="middle" fill="#000">75</text>
<line x1="363.80" y1="79.50" x2="363.80" y2="81.10" stroke="#000" stroke-width="0.8"/>
<text x="363.80" y="88.60" font-size="4.5" text-anchor="middle" fill="#000">100</text>
<polyline points="308.50,79.50 312.92,76.47 317.90,75.71 323.43,75.71 328.96,75.25 334.49,75.25 340.57,74.95 346.66,74.65 352.74,74.19 358.27,73.74 363.80,73.43" fill="none" stroke="#000" stroke-width="1.0" stroke-linejoin="round"/>
<rect x="307.10" y="78.10" width="2.80" height="2.80" fill="#fff" stroke="#000" stroke-width="0.85"/>
<rect x="311.52" y="75.07" width="2.80" height="2.80" fill="#fff" stroke="#000" stroke-width="0.85"/>
<rect x="316.50" y="74.31" width="2.80" height="2.80" fill="#fff" stroke="#000" stroke-width="0.85"/>
<rect x="322.03" y="74.31" width="2.80" height="2.80" fill="#fff" stroke="#000" stroke-width="0.85"/>
<rect x="327.56" y="73.85" width="2.80" height="2.80" fill="#fff" stroke="#000" stroke-width="0.85"/>
<rect x="333.09" y="73.85" width="2.80" height="2.80" fill="#fff" stroke="#000" stroke-width="0.85"/>
<rect x="339.17" y="73.55" width="2.80" height="2.80" fill="#fff" stroke="#000" stroke-width="0.85"/>
<rect x="345.26" y="73.25" width="2.80" height="2.80" fill="#fff" stroke="#000" stroke-width="0.85"/>
<rect x="351.34" y="72.79" width="2.80" height="2.80" fill="#fff" stroke="#000" stroke-width="0.85"/>
<rect x="356.87" y="72.34" width="2.80" height="2.80" fill="#fff" stroke="#000" stroke-width="0.85"/>
<rect x="362.40" y="72.03" width="2.80" height="2.80" fill="#fff" stroke="#000" stroke-width="0.85"/>
<polyline points="308.50,79.50 315.14,77.22 321.22,76.47 327.30,75.71 333.94,75.25 338.92,74.95 343.89,72.67 349.98,70.40 354.95,68.88 359.38,67.36 363.80,66.45" fill="none" stroke="#000" stroke-width="1.0" stroke-linejoin="round"/>
<circle cx="308.50" cy="79.50" r="1.40" fill="#fff" stroke="#000" stroke-width="0.85"/>
<circle cx="315.14" cy="77.22" r="1.40" fill="#fff" stroke="#000" stroke-width="0.85"/>
<circle cx="321.22" cy="76.47" r="1.40" fill="#fff" stroke="#000" stroke-width="0.85"/>
<circle cx="327.30" cy="75.71" r="1.40" fill="#fff" stroke="#000" stroke-width="0.85"/>
<circle cx="333.94" cy="75.25" r="1.40" fill="#fff" stroke="#000" stroke-width="0.85"/>
<circle cx="338.92" cy="74.95" r="1.40" fill="#fff" stroke="#000" stroke-width="0.85"/>
<circle cx="343.89" cy="72.67" r="1.40" fill="#fff" stroke="#000" stroke-width="0.85"/>
<circle cx="349.98" cy="70.40" r="1.40" fill="#fff" stroke="#000" stroke-width="0.85"/>
<circle cx="354.95" cy="68.88" r="1.40" fill="#fff" stroke="#000" stroke-width="0.85"/>
<circle cx="359.38" cy="67.36" r="1.40" fill="#fff" stroke="#000" stroke-width="0.85"/>
<circle cx="363.80" cy="66.45" r="1.40" fill="#fff" stroke="#000" stroke-width="0.85"/>
<line x1="345.00" y1="59.78" x2="345.00" y2="56.75" stroke="#000" stroke-width="0.95"/>
<line x1="342.80" y1="56.75" x2="347.20" y2="56.75" stroke="#000" stroke-width="0.95"/>
<line x1="349.98" y1="53.71" x2="349.98" y2="50.68" stroke="#000" stroke-width="0.95"/>
<line x1="347.78" y1="50.68" x2="352.18" y2="50.68" stroke="#000" stroke-width="0.95"/>
<line x1="354.95" y1="46.88" x2="354.95" y2="43.85" stroke="#000" stroke-width="0.95"/>
<line x1="352.75" y1="43.85" x2="357.15" y2="43.85" stroke="#000" stroke-width="0.95"/>
<line x1="359.38" y1="41.58" x2="359.38" y2="38.54" stroke="#000" stroke-width="0.95"/>
<line x1="357.18" y1="38.54" x2="361.58" y2="38.54" stroke="#000" stroke-width="0.95"/>
<line x1="362.69" y1="35.51" x2="362.69" y2="30.20" stroke="#000" stroke-width="0.95"/>
<line x1="360.49" y1="30.20" x2="364.89" y2="30.20" stroke="#000" stroke-width="0.95"/>
<polyline points="308.50,79.50 311.82,77.98 315.14,75.71 321.22,74.95 327.30,74.19 331.17,72.67 336.15,70.40 340.02,65.09 345.00,59.78 349.98,53.71 354.95,46.88 359.38,41.58 362.69,35.51" fill="none" stroke="#000" stroke-width="1.0" stroke-linejoin="round"/>
<polygon points="308.50,77.70 310.30,79.50 308.50,81.30 306.70,79.50" fill="#fff" stroke="#000" stroke-width="0.75"/>
<polygon points="311.82,76.18 313.62,77.98 311.82,79.78 310.02,77.98" fill="#fff" stroke="#000" stroke-width="0.75"/>
<polygon points="315.14,73.91 316.94,75.71 315.14,77.51 313.34,75.71" fill="#fff" stroke="#000" stroke-width="0.75"/>
<polygon points="321.22,73.15 323.02,74.95 321.22,76.75 319.42,74.95" fill="#fff" stroke="#000" stroke-width="0.75"/>
<polygon points="327.30,72.39 329.10,74.19 327.30,75.99 325.50,74.19" fill="#fff" stroke="#000" stroke-width="0.75"/>
<polygon points="331.17,70.87 332.97,72.67 331.17,74.47 329.37,72.67" fill="#fff" stroke="#000" stroke-width="0.75"/>
<polygon points="336.15,68.60 337.95,70.40 336.15,72.20 334.35,70.40" fill="#fff" stroke="#000" stroke-width="0.75"/>
<polygon points="340.02,63.29 341.82,65.09 340.02,66.89 338.22,65.09" fill="#fff" stroke="#000" stroke-width="0.75"/>
<polygon points="345.00,57.98 346.80,59.78 345.00,61.58 343.20,59.78" fill="#fff" stroke="#000" stroke-width="0.75"/>
<polygon points="349.98,51.91 351.78,53.71 349.98,55.51 348.18,53.71" fill="#fff" stroke="#000" stroke-width="0.75"/>
<polygon points="354.95,45.08 356.75,46.88 354.95,48.68 353.15,46.88" fill="#fff" stroke="#000" stroke-width="0.75"/>
<polygon points="359.38,39.78 361.18,41.58 359.38,43.38 357.58,41.58" fill="#fff" stroke="#000" stroke-width="0.75"/>
<polygon points="362.69,33.71 364.49,35.51 362.69,37.31 360.89,35.51" fill="#fff" stroke="#000" stroke-width="0.75"/>
<polyline points="308.50,79.50 311.82,77.98 315.14,75.25 321.22,75.25 327.30,73.58 331.17,73.13 336.15,71.16 340.02,66.00 345.00,62.81 349.98,58.57 354.95,48.25 359.38,44.61 362.69,40.36" fill="none" stroke="#000" stroke-width="1.0" stroke-linejoin="round"/>
<circle cx="308.50" cy="79.50" r="1.70" fill="#000"/>
<circle cx="311.82" cy="77.98" r="1.70" fill="#000"/>
<circle cx="315.14" cy="75.25" r="1.70" fill="#000"/>
<circle cx="321.22" cy="75.25" r="1.70" fill="#000"/>
<circle cx="327.30" cy="73.58" r="1.70" fill="#000"/>
<circle cx="331.17" cy="73.13" r="1.70" fill="#000"/>
<circle cx="336.15" cy="71.16" r="1.70" fill="#000"/>
<circle cx="340.02" cy="66.00" r="1.70" fill="#000"/>
<circle cx="345.00" cy="62.81" r="1.70" fill="#000"/>
<circle cx="349.98" cy="58.57" r="1.70" fill="#000"/>
<circle cx="354.95" cy="48.25" r="1.70" fill="#000"/>
<circle cx="359.38" cy="44.61" r="1.70" fill="#000"/>
<circle cx="362.69" cy="40.36" r="1.70" fill="#000"/>
<line x1="400.00" y1="26.50" x2="400.00" y2="80.10" stroke="#000" stroke-width="1.15"/>
<line x1="399.40" y1="79.50" x2="455.62" y2="79.50" stroke="#000" stroke-width="1.15"/>
<line x1="398.40" y1="79.50" x2="400.00" y2="79.50" stroke="#000" stroke-width="0.8"/>
<text x="396.60" y="81.10" font-size="4.5" text-anchor="end" fill="#000">0</text>
<line x1="398.40" y1="61.84" x2="400.00" y2="61.84" stroke="#000" stroke-width="0.8"/>
<text x="396.60" y="63.44" font-size="4.5" text-anchor="end" fill="#000">2</text>
<line x1="398.40" y1="44.18" x2="400.00" y2="44.18" stroke="#000" stroke-width="0.8"/>
<text x="396.60" y="45.78" font-size="4.5" text-anchor="end" fill="#000">4</text>
<line x1="398.40" y1="26.52" x2="400.00" y2="26.52" stroke="#000" stroke-width="0.8"/>
<text x="396.60" y="28.12" font-size="4.5" text-anchor="end" fill="#000">6</text>
<line x1="400.00" y1="79.50" x2="400.00" y2="81.10" stroke="#000" stroke-width="0.8"/>
<text x="400.00" y="88.60" font-size="4.5" text-anchor="middle" fill="#000">0</text>
<line x1="418.54" y1="79.50" x2="418.54" y2="81.10" stroke="#000" stroke-width="0.8"/>
<text x="418.54" y="88.60" font-size="4.5" text-anchor="middle" fill="#000">20</text>
<line x1="437.08" y1="79.50" x2="437.08" y2="81.10" stroke="#000" stroke-width="0.8"/>
<text x="437.08" y="88.60" font-size="4.5" text-anchor="middle" fill="#000">40</text>
<line x1="455.62" y1="79.50" x2="455.62" y2="81.10" stroke="#000" stroke-width="0.8"/>
<text x="455.62" y="88.60" font-size="4.5" text-anchor="middle" fill="#000">60</text>
<polyline points="400.00,79.50 404.63,79.06 409.27,79.06 415.76,77.73 422.53,76.85 432.07,76.67 439.30,76.85 447.18,76.14 454.41,75.35" fill="none" stroke="#000" stroke-width="1.0" stroke-linejoin="round"/>
<rect x="398.60" y="78.10" width="2.80" height="2.80" fill="#fff" stroke="#000" stroke-width="0.85"/>
<rect x="403.24" y="77.66" width="2.80" height="2.80" fill="#fff" stroke="#000" stroke-width="0.85"/>
<rect x="407.87" y="77.66" width="2.80" height="2.80" fill="#fff" stroke="#000" stroke-width="0.85"/>
<rect x="414.36" y="76.33" width="2.80" height="2.80" fill="#fff" stroke="#000" stroke-width="0.85"/>
<rect x="421.13" y="75.45" width="2.80" height="2.80" fill="#fff" stroke="#000" stroke-width="0.85"/>
<rect x="430.67" y="75.27" width="2.80" height="2.80" fill="#fff" stroke="#000" stroke-width="0.85"/>
<rect x="437.90" y="75.45" width="2.80" height="2.80" fill="#fff" stroke="#000" stroke-width="0.85"/>
<rect x="445.78" y="74.74" width="2.80" height="2.80" fill="#fff" stroke="#000" stroke-width="0.85"/>
<rect x="453.01" y="73.95" width="2.80" height="2.80" fill="#fff" stroke="#000" stroke-width="0.85"/>
<polyline points="400.00,79.50 407.42,78.62 412.98,76.85 420.39,75.26 427.81,73.32 435.23,72.61 442.64,68.90 450.06,67.58 455.62,66.96" fill="none" stroke="#000" stroke-width="1.0" stroke-linejoin="round"/>
<circle cx="400.00" cy="79.50" r="1.40" fill="#fff" stroke="#000" stroke-width="0.85"/>
<circle cx="407.42" cy="78.62" r="1.40" fill="#fff" stroke="#000" stroke-width="0.85"/>
<circle cx="412.98" cy="76.85" r="1.40" fill="#fff" stroke="#000" stroke-width="0.85"/>
<circle cx="420.39" cy="75.26" r="1.40" fill="#fff" stroke="#000" stroke-width="0.85"/>
<circle cx="427.81" cy="73.32" r="1.40" fill="#fff" stroke="#000" stroke-width="0.85"/>
<circle cx="435.23" cy="72.61" r="1.40" fill="#fff" stroke="#000" stroke-width="0.85"/>
<circle cx="442.64" cy="68.90" r="1.40" fill="#fff" stroke="#000" stroke-width="0.85"/>
<circle cx="450.06" cy="67.58" r="1.40" fill="#fff" stroke="#000" stroke-width="0.85"/>
<circle cx="455.62" cy="66.96" r="1.40" fill="#fff" stroke="#000" stroke-width="0.85"/>
<line x1="418.54" y1="62.72" x2="418.54" y2="59.46" stroke="#000" stroke-width="0.95"/>
<line x1="416.34" y1="59.46" x2="420.74" y2="59.46" stroke="#000" stroke-width="0.95"/>
<line x1="426.51" y1="56.28" x2="426.51" y2="52.75" stroke="#000" stroke-width="0.95"/>
<line x1="424.31" y1="52.75" x2="428.71" y2="52.75" stroke="#000" stroke-width="0.95"/>
<line x1="433.65" y1="49.21" x2="433.65" y2="44.80" stroke="#000" stroke-width="0.95"/>
<line x1="431.45" y1="44.80" x2="435.85" y2="44.80" stroke="#000" stroke-width="0.95"/>
<line x1="441.53" y1="42.06" x2="441.53" y2="38.88" stroke="#000" stroke-width="0.95"/>
<line x1="439.33" y1="38.88" x2="443.73" y2="38.88" stroke="#000" stroke-width="0.95"/>
<line x1="448.67" y1="35.70" x2="448.67" y2="32.52" stroke="#000" stroke-width="0.95"/>
<line x1="446.47" y1="32.52" x2="450.87" y2="32.52" stroke="#000" stroke-width="0.95"/>
<line x1="455.81" y1="31.73" x2="455.81" y2="28.64" stroke="#000" stroke-width="0.95"/>
<line x1="453.61" y1="28.64" x2="458.01" y2="28.64" stroke="#000" stroke-width="0.95"/>
<polyline points="400.00,79.50 404.63,78.62 409.27,75.53 418.54,62.72 426.51,56.28 433.65,49.21 441.53,42.06 448.67,35.70 455.81,31.73" fill="none" stroke="#000" stroke-width="1.0" stroke-linejoin="round"/>
<polygon points="400.00,77.70 401.80,79.50 400.00,81.30 398.20,79.50" fill="#fff" stroke="#000" stroke-width="0.75"/>
<polygon points="404.63,76.82 406.44,78.62 404.63,80.42 402.83,78.62" fill="#fff" stroke="#000" stroke-width="0.75"/>
<polygon points="409.27,73.73 411.07,75.53 409.27,77.33 407.47,75.53" fill="#fff" stroke="#000" stroke-width="0.75"/>
<polygon points="418.54,60.92 420.34,62.72 418.54,64.52 416.74,62.72" fill="#fff" stroke="#000" stroke-width="0.75"/>
<polygon points="426.51,54.48 428.31,56.28 426.51,58.08 424.71,56.28" fill="#fff" stroke="#000" stroke-width="0.75"/>
<polygon points="433.65,47.41 435.45,49.21 433.65,51.01 431.85,49.21" fill="#fff" stroke="#000" stroke-width="0.75"/>
<polygon points="441.53,40.26 443.33,42.06 441.53,43.86 439.73,42.06" fill="#fff" stroke="#000" stroke-width="0.75"/>
<polygon points="448.67,33.90 450.47,35.70 448.67,37.50 446.87,35.70" fill="#fff" stroke="#000" stroke-width="0.75"/>
<polygon points="455.81,29.93 457.61,31.73 455.81,33.53 454.01,31.73" fill="#fff" stroke="#000" stroke-width="0.75"/>
<polyline points="400.00,79.50 403.71,78.62 408.16,76.14 414.55,71.02 422.53,64.22 429.66,57.87 437.27,49.21 444.77,40.91 450.34,38.00 455.81,33.58" fill="none" stroke="#000" stroke-width="1.0" stroke-linejoin="round"/>
<circle cx="400.00" cy="79.50" r="1.70" fill="#000"/>
<circle cx="403.71" cy="78.62" r="1.70" fill="#000"/>
<circle cx="408.16" cy="76.14" r="1.70" fill="#000"/>
<circle cx="414.55" cy="71.02" r="1.70" fill="#000"/>
<circle cx="422.53" cy="64.22" r="1.70" fill="#000"/>
<circle cx="429.66" cy="57.87" r="1.70" fill="#000"/>
<circle cx="437.27" cy="49.21" r="1.70" fill="#000"/>
<circle cx="444.77" cy="40.91" r="1.70" fill="#000"/>
<circle cx="450.34" cy="38.00" r="1.70" fill="#000"/>
<circle cx="455.81" cy="33.58" r="1.70" fill="#000"/>
<line x1="29.50" y1="108.50" x2="29.50" y2="162.10" stroke="#000" stroke-width="1.15"/>
<line x1="28.30" y1="161.50" x2="31.30" y2="161.50" stroke="#000" stroke-width="1.15"/>
<line x1="39.50" y1="161.50" x2="89.11" y2="161.50" stroke="#000" stroke-width="1.15"/>
<line x1="27.90" y1="161.50" x2="29.50" y2="161.50" stroke="#000" stroke-width="0.8"/>
<text x="26.10" y="163.10" font-size="4.5" text-anchor="end" fill="#000">0</text>
<line x1="27.90" y1="148.88" x2="29.50" y2="148.88" stroke="#000" stroke-width="0.8"/>
<text x="26.10" y="150.47" font-size="4.5" text-anchor="end" fill="#000">25</text>
<line x1="27.90" y1="136.25" x2="29.50" y2="136.25" stroke="#000" stroke-width="0.8"/>
<text x="26.10" y="137.85" font-size="4.5" text-anchor="end" fill="#000">50</text>
<line x1="27.90" y1="123.62" x2="29.50" y2="123.62" stroke="#000" stroke-width="0.8"/>
<text x="26.10" y="125.22" font-size="4.5" text-anchor="end" fill="#000">75</text>
<line x1="27.90" y1="111.00" x2="29.50" y2="111.00" stroke="#000" stroke-width="0.8"/>
<text x="26.10" y="112.60" font-size="4.5" text-anchor="end" fill="#000">100</text>
<line x1="29.50" y1="161.50" x2="29.50" y2="163.10" stroke="#000" stroke-width="0.8"/>
<text x="29.50" y="169.80" font-size="4.5" text-anchor="middle" fill="#000">0</text>
<line x1="44.50" y1="161.50" x2="44.50" y2="163.10" stroke="#000" stroke-width="0.8"/>
<text x="44.50" y="169.80" font-size="4.5" text-anchor="middle" fill="#000">1</text>
<line x1="58.87" y1="161.50" x2="58.87" y2="163.10" stroke="#000" stroke-width="0.8"/>
<text x="58.87" y="169.80" font-size="4.5" text-anchor="middle" fill="#000">10</text>
<line x1="73.24" y1="161.50" x2="73.24" y2="163.10" stroke="#000" stroke-width="0.8"/>
<text x="73.24" y="169.80" font-size="4.5" text-anchor="middle" fill="#000">100</text>
<line x1="87.61" y1="161.50" x2="87.61" y2="163.10" stroke="#000" stroke-width="0.8"/>
<text x="87.61" y="169.80" font-size="4.5" text-anchor="middle" fill="#000">1000</text>
<line x1="63.20" y1="122.41" x2="63.20" y2="120.90" stroke="#000" stroke-width="0.95"/>
<line x1="61.00" y1="120.90" x2="65.40" y2="120.90" stroke="#000" stroke-width="0.95"/>
<line x1="65.73" y1="128.98" x2="65.73" y2="124.94" stroke="#000" stroke-width="0.95"/>
<line x1="63.53" y1="124.94" x2="67.93" y2="124.94" stroke="#000" stroke-width="0.95"/>
<line x1="68.91" y1="143.72" x2="68.91" y2="139.18" stroke="#000" stroke-width="0.95"/>
<line x1="66.71" y1="139.18" x2="71.11" y2="139.18" stroke="#000" stroke-width="0.95"/>
<line x1="29.50" y1="111.00" x2="32.78" y2="112.48" stroke="#000" stroke-width="1.0"/>
<polyline points="39.50,115.52 58.87,124.28 63.20,122.41 65.73,128.98 68.91,143.72 73.24,159.68 87.61,160.29" fill="none" stroke="#000" stroke-width="1.0" stroke-linejoin="round"/>
<circle cx="29.50" cy="111.00" r="1.90" fill="#000"/>
<circle cx="58.87" cy="124.28" r="1.90" fill="#000"/>
<circle cx="63.20" cy="122.41" r="1.90" fill="#000"/>
<circle cx="65.73" cy="128.98" r="1.90" fill="#000"/>
<circle cx="68.91" cy="143.72" r="1.90" fill="#000"/>
<circle cx="73.24" cy="159.68" r="1.90" fill="#000"/>
<circle cx="87.61" cy="160.29" r="1.90" fill="#000"/>
<line x1="126.00" y1="107.50" x2="126.00" y2="162.10" stroke="#000" stroke-width="1.15"/>
<line x1="124.80" y1="161.50" x2="127.80" y2="161.50" stroke="#000" stroke-width="1.15"/>
<line x1="134.70" y1="161.50" x2="183.71" y2="161.50" stroke="#000" stroke-width="1.15"/>
<line x1="124.40" y1="161.50" x2="126.00" y2="161.50" stroke="#000" stroke-width="0.8"/>
<text x="122.60" y="163.10" font-size="4.5" text-anchor="end" fill="#000">0</text>
<line x1="124.40" y1="148.18" x2="126.00" y2="148.18" stroke="#000" stroke-width="0.8"/>
<text x="122.60" y="149.78" font-size="4.5" text-anchor="end" fill="#000">40</text>
<line x1="124.40" y1="134.86" x2="126.00" y2="134.86" stroke="#000" stroke-width="0.8"/>
<text x="122.60" y="136.46" font-size="4.5" text-anchor="end" fill="#000">80</text>
<line x1="124.40" y1="121.54" x2="126.00" y2="121.54" stroke="#000" stroke-width="0.8"/>
<text x="122.60" y="123.14" font-size="4.5" text-anchor="end" fill="#000">120</text>
<line x1="124.40" y1="108.22" x2="126.00" y2="108.22" stroke="#000" stroke-width="0.8"/>
<text x="122.60" y="109.82" font-size="4.5" text-anchor="end" fill="#000">160</text>
<line x1="126.00" y1="161.50" x2="126.00" y2="163.10" stroke="#000" stroke-width="0.8"/>
<text x="126.00" y="169.80" font-size="4.5" text-anchor="middle" fill="#000">0</text>
<line x1="139.70" y1="161.50" x2="139.70" y2="163.10" stroke="#000" stroke-width="0.8"/>
<text x="139.70" y="169.80" font-size="4.5" text-anchor="middle" fill="#000">1</text>
<line x1="153.87" y1="161.50" x2="153.87" y2="163.10" stroke="#000" stroke-width="0.8"/>
<text x="153.87" y="169.80" font-size="4.5" text-anchor="middle" fill="#000">10</text>
<line x1="168.04" y1="161.50" x2="168.04" y2="163.10" stroke="#000" stroke-width="0.8"/>
<text x="168.04" y="169.80" font-size="4.5" text-anchor="middle" fill="#000">100</text>
<line x1="182.21" y1="161.50" x2="182.21" y2="163.10" stroke="#000" stroke-width="0.8"/>
<text x="182.21" y="169.80" font-size="4.5" text-anchor="middle" fill="#000">1000</text>
<line x1="139.70" y1="120.87" x2="139.70" y2="116.88" stroke="#000" stroke-width="0.95"/>
<line x1="137.50" y1="116.88" x2="141.90" y2="116.88" stroke="#000" stroke-width="0.95"/>
<line x1="146.46" y1="112.88" x2="146.46" y2="107.55" stroke="#000" stroke-width="0.95"/>
<line x1="144.26" y1="107.55" x2="148.66" y2="107.55" stroke="#000" stroke-width="0.95"/>
<line x1="153.87" y1="132.86" x2="153.87" y2="125.54" stroke="#000" stroke-width="0.95"/>
<line x1="151.67" y1="125.54" x2="156.07" y2="125.54" stroke="#000" stroke-width="0.95"/>
<line x1="126.00" y1="128.20" x2="129.17" y2="126.50" stroke="#000" stroke-width="1.0"/>
<polyline points="134.70,123.55 139.70,120.87 146.46,112.88 153.87,132.86 168.04,155.61 182.21,155.61" fill="none" stroke="#000" stroke-width="1.0" stroke-linejoin="round"/>
<circle cx="126.00" cy="128.20" r="1.90" fill="#000"/>
<circle cx="139.70" cy="120.87" r="1.90" fill="#000"/>
<circle cx="146.46" cy="112.88" r="1.90" fill="#000"/>
<circle cx="153.87" cy="132.86" r="1.90" fill="#000"/>
<circle cx="168.04" cy="155.61" r="1.90" fill="#000"/>
<circle cx="182.21" cy="155.61" r="1.90" fill="#000"/>
<line x1="217.00" y1="109.30" x2="217.00" y2="162.10" stroke="#000" stroke-width="1.15"/>
<line x1="215.80" y1="161.50" x2="218.80" y2="161.50" stroke="#000" stroke-width="1.15"/>
<line x1="226.00" y1="161.50" x2="275.10" y2="161.50" stroke="#000" stroke-width="1.15"/>
<line x1="215.40" y1="161.50" x2="217.00" y2="161.50" stroke="#000" stroke-width="0.8"/>
<text x="213.60" y="163.10" font-size="4.5" text-anchor="end" fill="#000">0</text>
<line x1="215.40" y1="149.65" x2="217.00" y2="149.65" stroke="#000" stroke-width="0.8"/>
<text x="213.60" y="151.25" font-size="4.5" text-anchor="end" fill="#000">25</text>
<line x1="215.40" y1="137.80" x2="217.00" y2="137.80" stroke="#000" stroke-width="0.8"/>
<text x="213.60" y="139.40" font-size="4.5" text-anchor="end" fill="#000">50</text>
<line x1="215.40" y1="125.95" x2="217.00" y2="125.95" stroke="#000" stroke-width="0.8"/>
<text x="213.60" y="127.55" font-size="4.5" text-anchor="end" fill="#000">75</text>
<line x1="215.40" y1="114.10" x2="217.00" y2="114.10" stroke="#000" stroke-width="0.8"/>
<text x="213.60" y="115.70" font-size="4.5" text-anchor="end" fill="#000">100</text>
<line x1="217.00" y1="161.50" x2="217.00" y2="163.10" stroke="#000" stroke-width="0.8"/>
<text x="217.00" y="169.80" font-size="4.5" text-anchor="middle" fill="#000">0</text>
<line x1="231.00" y1="161.50" x2="231.00" y2="163.10" stroke="#000" stroke-width="0.8"/>
<text x="231.00" y="169.80" font-size="4.5" text-anchor="middle" fill="#000">1</text>
<line x1="245.20" y1="161.50" x2="245.20" y2="163.10" stroke="#000" stroke-width="0.8"/>
<text x="245.20" y="169.80" font-size="4.5" text-anchor="middle" fill="#000">10</text>
<line x1="259.40" y1="161.50" x2="259.40" y2="163.10" stroke="#000" stroke-width="0.8"/>
<text x="259.40" y="169.80" font-size="4.5" text-anchor="middle" fill="#000">100</text>
<line x1="273.60" y1="161.50" x2="273.60" y2="163.10" stroke="#000" stroke-width="0.8"/>
<text x="273.60" y="169.80" font-size="4.5" text-anchor="middle" fill="#000">1000</text>
<line x1="231.00" y1="118.08" x2="231.00" y2="110.50" stroke="#000" stroke-width="0.95"/>
<line x1="228.80" y1="110.50" x2="233.20" y2="110.50" stroke="#000" stroke-width="0.95"/>
<line x1="237.78" y1="111.73" x2="237.78" y2="108.70" stroke="#000" stroke-width="0.95"/>
<line x1="235.58" y1="108.70" x2="239.98" y2="108.70" stroke="#000" stroke-width="0.95"/>
<line x1="245.20" y1="143.82" x2="245.20" y2="138.13" stroke="#000" stroke-width="0.95"/>
<line x1="243.00" y1="138.13" x2="247.40" y2="138.13" stroke="#000" stroke-width="0.95"/>
<line x1="259.40" y1="155.91" x2="259.40" y2="153.44" stroke="#000" stroke-width="0.95"/>
<line x1="257.20" y1="153.44" x2="261.60" y2="153.44" stroke="#000" stroke-width="0.95"/>
<line x1="273.60" y1="156.19" x2="273.60" y2="153.82" stroke="#000" stroke-width="0.95"/>
<line x1="271.40" y1="153.82" x2="275.80" y2="153.82" stroke="#000" stroke-width="0.95"/>
<line x1="217.00" y1="114.10" x2="220.46" y2="115.08" stroke="#000" stroke-width="1.0"/>
<polyline points="226.00,116.66 231.00,118.08 237.78,111.73 245.20,143.82 259.40,155.91 273.60,156.19" fill="none" stroke="#000" stroke-width="1.0" stroke-linejoin="round"/>
<circle cx="217.00" cy="114.10" r="1.90" fill="#000"/>
<circle cx="231.00" cy="118.08" r="1.90" fill="#000"/>
<circle cx="237.78" cy="111.73" r="1.90" fill="#000"/>
<circle cx="245.20" cy="143.82" r="1.90" fill="#000"/>
<circle cx="259.40" cy="155.91" r="1.90" fill="#000"/>
<circle cx="273.60" cy="156.19" r="1.90" fill="#000"/>
<line x1="308.50" y1="107.80" x2="308.50" y2="162.10" stroke="#000" stroke-width="1.15"/>
<line x1="307.30" y1="161.50" x2="310.30" y2="161.50" stroke="#000" stroke-width="1.15"/>
<line x1="317.30" y1="161.50" x2="366.10" y2="161.50" stroke="#000" stroke-width="1.15"/>
<line x1="306.90" y1="161.50" x2="308.50" y2="161.50" stroke="#000" stroke-width="0.8"/>
<text x="305.10" y="163.10" font-size="4.5" text-anchor="end" fill="#000">0</text>
<line x1="306.90" y1="151.86" x2="308.50" y2="151.86" stroke="#000" stroke-width="0.8"/>
<text x="305.10" y="153.46" font-size="4.5" text-anchor="end" fill="#000">25</text>
<line x1="306.90" y1="142.22" x2="308.50" y2="142.22" stroke="#000" stroke-width="0.8"/>
<text x="305.10" y="143.82" font-size="4.5" text-anchor="end" fill="#000">50</text>
<line x1="306.90" y1="132.58" x2="308.50" y2="132.58" stroke="#000" stroke-width="0.8"/>
<text x="305.10" y="134.18" font-size="4.5" text-anchor="end" fill="#000">75</text>
<line x1="306.90" y1="122.94" x2="308.50" y2="122.94" stroke="#000" stroke-width="0.8"/>
<text x="305.10" y="124.54" font-size="4.5" text-anchor="end" fill="#000">100</text>
<line x1="306.90" y1="113.30" x2="308.50" y2="113.30" stroke="#000" stroke-width="0.8"/>
<text x="305.10" y="114.90" font-size="4.5" text-anchor="end" fill="#000">125</text>
<line x1="308.50" y1="161.50" x2="308.50" y2="163.10" stroke="#000" stroke-width="0.8"/>
<text x="308.50" y="169.80" font-size="4.5" text-anchor="middle" fill="#000">0</text>
<line x1="322.30" y1="161.50" x2="322.30" y2="163.10" stroke="#000" stroke-width="0.8"/>
<text x="322.30" y="169.80" font-size="4.5" text-anchor="middle" fill="#000">1</text>
<line x1="336.40" y1="161.50" x2="336.40" y2="163.10" stroke="#000" stroke-width="0.8"/>
<text x="336.40" y="169.80" font-size="4.5" text-anchor="middle" fill="#000">10</text>
<line x1="350.50" y1="161.50" x2="350.50" y2="163.10" stroke="#000" stroke-width="0.8"/>
<text x="350.50" y="169.80" font-size="4.5" text-anchor="middle" fill="#000">100</text>
<line x1="364.60" y1="161.50" x2="364.60" y2="163.10" stroke="#000" stroke-width="0.8"/>
<text x="364.60" y="169.80" font-size="4.5" text-anchor="middle" fill="#000">1000</text>
<line x1="322.30" y1="110.68" x2="322.30" y2="106.98" stroke="#000" stroke-width="0.95"/>
<line x1="320.10" y1="106.98" x2="324.50" y2="106.98" stroke="#000" stroke-width="0.95"/>
<line x1="329.03" y1="112.68" x2="329.03" y2="111.53" stroke="#000" stroke-width="0.95"/>
<line x1="326.83" y1="111.53" x2="331.23" y2="111.53" stroke="#000" stroke-width="0.95"/>
<line x1="336.40" y1="134.28" x2="336.40" y2="121.17" stroke="#000" stroke-width="0.95"/>
<line x1="334.20" y1="121.17" x2="338.60" y2="121.17" stroke="#000" stroke-width="0.95"/>
<line x1="350.50" y1="154.48" x2="350.50" y2="151.40" stroke="#000" stroke-width="0.95"/>
<line x1="348.30" y1="151.40" x2="352.70" y2="151.40" stroke="#000" stroke-width="0.95"/>
<line x1="364.60" y1="154.94" x2="364.60" y2="151.86" stroke="#000" stroke-width="0.95"/>
<line x1="362.40" y1="151.86" x2="366.80" y2="151.86" stroke="#000" stroke-width="0.95"/>
<line x1="308.50" y1="122.94" x2="311.19" y2="120.55" stroke="#000" stroke-width="1.0"/>
<polyline points="317.30,115.12 322.30,110.68 329.03,112.68 336.40,134.28 350.50,154.48 364.60,154.94" fill="none" stroke="#000" stroke-width="1.0" stroke-linejoin="round"/>
<circle cx="308.50" cy="122.94" r="1.90" fill="#000"/>
<circle cx="322.30" cy="110.68" r="1.90" fill="#000"/>
<circle cx="329.03" cy="112.68" r="1.90" fill="#000"/>
<circle cx="336.40" cy="134.28" r="1.90" fill="#000"/>
<circle cx="350.50" cy="154.48" r="1.90" fill="#000"/>
<circle cx="364.60" cy="154.94" r="1.90" fill="#000"/>
<line x1="400.00" y1="108.50" x2="400.00" y2="161.10" stroke="#000" stroke-width="1.15"/>
<line x1="398.80" y1="160.50" x2="401.80" y2="160.50" stroke="#000" stroke-width="1.15"/>
<line x1="409.30" y1="160.50" x2="458.31" y2="160.50" stroke="#000" stroke-width="1.15"/>
<line x1="398.40" y1="160.50" x2="400.00" y2="160.50" stroke="#000" stroke-width="0.8"/>
<text x="396.60" y="162.10" font-size="4.5" text-anchor="end" fill="#000">0</text>
<line x1="398.40" y1="148.95" x2="400.00" y2="148.95" stroke="#000" stroke-width="0.8"/>
<text x="396.60" y="150.55" font-size="4.5" text-anchor="end" fill="#000">25</text>
<line x1="398.40" y1="137.40" x2="400.00" y2="137.40" stroke="#000" stroke-width="0.8"/>
<text x="396.60" y="139.00" font-size="4.5" text-anchor="end" fill="#000">50</text>
<line x1="398.40" y1="125.85" x2="400.00" y2="125.85" stroke="#000" stroke-width="0.8"/>
<text x="396.60" y="127.45" font-size="4.5" text-anchor="end" fill="#000">75</text>
<line x1="398.40" y1="114.30" x2="400.00" y2="114.30" stroke="#000" stroke-width="0.8"/>
<text x="396.60" y="115.90" font-size="4.5" text-anchor="end" fill="#000">100</text>
<line x1="400.00" y1="160.50" x2="400.00" y2="162.10" stroke="#000" stroke-width="0.8"/>
<text x="400.00" y="168.80" font-size="4.5" text-anchor="middle" fill="#000">0</text>
<line x1="414.30" y1="160.50" x2="414.30" y2="162.10" stroke="#000" stroke-width="0.8"/>
<text x="414.30" y="168.80" font-size="4.5" text-anchor="middle" fill="#000">1</text>
<line x1="428.47" y1="160.50" x2="428.47" y2="162.10" stroke="#000" stroke-width="0.8"/>
<text x="428.47" y="168.80" font-size="4.5" text-anchor="middle" fill="#000">10</text>
<line x1="442.64" y1="160.50" x2="442.64" y2="162.10" stroke="#000" stroke-width="0.8"/>
<text x="442.64" y="168.80" font-size="4.5" text-anchor="middle" fill="#000">100</text>
<line x1="456.81" y1="160.50" x2="456.81" y2="162.10" stroke="#000" stroke-width="0.8"/>
<text x="456.81" y="168.80" font-size="4.5" text-anchor="middle" fill="#000">1000</text>
<line x1="414.30" y1="116.52" x2="414.30" y2="112.45" stroke="#000" stroke-width="0.95"/>
<line x1="412.10" y1="112.45" x2="416.50" y2="112.45" stroke="#000" stroke-width="0.95"/>
<line x1="421.06" y1="113.88" x2="421.06" y2="108.89" stroke="#000" stroke-width="0.95"/>
<line x1="418.86" y1="108.89" x2="423.26" y2="108.89" stroke="#000" stroke-width="0.95"/>
<line x1="428.47" y1="141.19" x2="428.47" y2="129.31" stroke="#000" stroke-width="0.95"/>
<line x1="426.27" y1="129.31" x2="430.67" y2="129.31" stroke="#000" stroke-width="0.95"/>
<line x1="400.00" y1="114.30" x2="403.56" y2="114.85" stroke="#000" stroke-width="1.0"/>
<polyline points="409.30,115.74 414.30,116.52 421.06,113.88 428.47,141.19 435.23,156.48 442.64,157.50 456.81,157.73" fill="none" stroke="#000" stroke-width="1.0" stroke-linejoin="round"/>
<circle cx="400.00" cy="114.30" r="1.90" fill="#000"/>
<circle cx="414.30" cy="116.52" r="1.90" fill="#000"/>
<circle cx="421.06" cy="113.88" r="1.90" fill="#000"/>
<circle cx="428.47" cy="141.19" r="1.90" fill="#000"/>
<circle cx="435.23" cy="156.48" r="1.90" fill="#000"/>
<circle cx="442.64" cy="157.50" r="1.90" fill="#000"/>
<circle cx="456.81" cy="157.73" r="1.90" fill="#000"/>
<line x1="29.50" y1="210.00" x2="29.50" y2="265.10" stroke="#000" stroke-width="1.15"/>
<line x1="28.90" y1="264.50" x2="87.58" y2="264.50" stroke="#000" stroke-width="1.15"/>
<line x1="27.90" y1="264.50" x2="29.50" y2="264.50" stroke="#000" stroke-width="0.8"/>
<text x="26.10" y="266.10" font-size="4.5" text-anchor="end" fill="#000">0</text>
<line x1="27.90" y1="250.78" x2="29.50" y2="250.78" stroke="#000" stroke-width="0.8"/>
<text x="26.10" y="252.38" font-size="4.5" text-anchor="end" fill="#000">5</text>
<line x1="27.90" y1="237.05" x2="29.50" y2="237.05" stroke="#000" stroke-width="0.8"/>
<text x="26.10" y="238.65" font-size="4.5" text-anchor="end" fill="#000">10</text>
<line x1="27.90" y1="223.32" x2="29.50" y2="223.32" stroke="#000" stroke-width="0.8"/>
<text x="26.10" y="224.92" font-size="4.5" text-anchor="end" fill="#000">15</text>
<line x1="27.90" y1="209.60" x2="29.50" y2="209.60" stroke="#000" stroke-width="0.8"/>
<text x="26.10" y="211.20" font-size="4.5" text-anchor="end" fill="#000">20</text>
<line x1="29.50" y1="264.50" x2="29.50" y2="266.10" stroke="#000" stroke-width="0.8"/>
<text x="29.50" y="273.60" font-size="4.5" text-anchor="middle" fill="#000">0</text>
<line x1="48.86" y1="264.50" x2="48.86" y2="266.10" stroke="#000" stroke-width="0.8"/>
<text x="48.86" y="273.60" font-size="4.5" text-anchor="middle" fill="#000">20</text>
<line x1="68.22" y1="264.50" x2="68.22" y2="266.10" stroke="#000" stroke-width="0.8"/>
<text x="68.22" y="273.60" font-size="4.5" text-anchor="middle" fill="#000">40</text>
<line x1="87.58" y1="264.50" x2="87.58" y2="266.10" stroke="#000" stroke-width="0.8"/>
<text x="87.58" y="273.60" font-size="4.5" text-anchor="middle" fill="#000">60</text>
<polyline points="29.50,264.50 35.31,264.50 41.12,264.50 46.92,264.50 52.73,264.50 58.54,264.50 64.35,264.50 70.16,264.50 75.96,264.50 81.77,264.50 87.58,264.50" fill="none" stroke="#000" stroke-width="1.0" stroke-linejoin="round"/>
<rect x="28.35" y="263.35" width="2.30" height="2.30" fill="#fff" stroke="#000" stroke-width="0.85"/>
<rect x="34.16" y="263.35" width="2.30" height="2.30" fill="#fff" stroke="#000" stroke-width="0.85"/>
<rect x="39.97" y="263.35" width="2.30" height="2.30" fill="#fff" stroke="#000" stroke-width="0.85"/>
<rect x="45.77" y="263.35" width="2.30" height="2.30" fill="#fff" stroke="#000" stroke-width="0.85"/>
<rect x="51.58" y="263.35" width="2.30" height="2.30" fill="#fff" stroke="#000" stroke-width="0.85"/>
<rect x="57.39" y="263.35" width="2.30" height="2.30" fill="#fff" stroke="#000" stroke-width="0.85"/>
<rect x="63.20" y="263.35" width="2.30" height="2.30" fill="#fff" stroke="#000" stroke-width="0.85"/>
<rect x="69.01" y="263.35" width="2.30" height="2.30" fill="#fff" stroke="#000" stroke-width="0.85"/>
<rect x="74.81" y="263.35" width="2.30" height="2.30" fill="#fff" stroke="#000" stroke-width="0.85"/>
<rect x="80.62" y="263.35" width="2.30" height="2.30" fill="#fff" stroke="#000" stroke-width="0.85"/>
<rect x="86.43" y="263.35" width="2.30" height="2.30" fill="#fff" stroke="#000" stroke-width="0.85"/>
<polyline points="32.40,264.50 38.21,264.50 44.02,264.50 49.83,264.50 55.64,264.50 61.44,264.50 67.25,264.50 73.06,264.50 78.87,264.50 84.68,264.50" fill="none" stroke="#000" stroke-width="1.0" stroke-linejoin="round"/>
<polygon points="32.40,262.95 33.95,265.74 30.85,265.74" fill="#fff" stroke="#000" stroke-width="0.7"/>
<polygon points="38.21,262.95 39.76,265.74 36.66,265.74" fill="#fff" stroke="#000" stroke-width="0.7"/>
<polygon points="44.02,262.95 45.57,265.74 42.47,265.74" fill="#fff" stroke="#000" stroke-width="0.7"/>
<polygon points="49.83,262.95 51.38,265.74 48.28,265.74" fill="#fff" stroke="#000" stroke-width="0.7"/>
<polygon points="55.64,262.95 57.19,265.74 54.09,265.74" fill="#fff" stroke="#000" stroke-width="0.7"/>
<polygon points="61.44,262.95 62.99,265.74 59.89,265.74" fill="#fff" stroke="#000" stroke-width="0.7"/>
<polygon points="67.25,262.95 68.80,265.74 65.70,265.74" fill="#fff" stroke="#000" stroke-width="0.7"/>
<polygon points="73.06,262.95 74.61,265.74 71.51,265.74" fill="#fff" stroke="#000" stroke-width="0.7"/>
<polygon points="78.87,262.95 80.42,265.74 77.32,265.74" fill="#fff" stroke="#000" stroke-width="0.7"/>
<polygon points="84.68,262.95 86.23,265.74 83.13,265.74" fill="#fff" stroke="#000" stroke-width="0.7"/>
<polyline points="29.50,264.50 34.34,264.50 39.18,264.50 43.05,263.68 50.80,259.01 59.02,249.68 66.28,240.34 74.03,232.66 80.80,224.70 87.58,218.11" fill="none" stroke="#000" stroke-width="1.0" stroke-linejoin="round"/>
<circle cx="29.50" cy="264.50" r="1.40" fill="#fff" stroke="#000" stroke-width="0.85"/>
<circle cx="34.34" cy="264.50" r="1.40" fill="#fff" stroke="#000" stroke-width="0.85"/>
<circle cx="39.18" cy="264.50" r="1.40" fill="#fff" stroke="#000" stroke-width="0.85"/>
<circle cx="43.05" cy="263.68" r="1.40" fill="#fff" stroke="#000" stroke-width="0.85"/>
<circle cx="50.80" cy="259.01" r="1.40" fill="#fff" stroke="#000" stroke-width="0.85"/>
<circle cx="59.02" cy="249.68" r="1.40" fill="#fff" stroke="#000" stroke-width="0.85"/>
<circle cx="66.28" cy="240.34" r="1.40" fill="#fff" stroke="#000" stroke-width="0.85"/>
<circle cx="74.03" cy="232.66" r="1.40" fill="#fff" stroke="#000" stroke-width="0.85"/>
<circle cx="80.80" cy="224.70" r="1.40" fill="#fff" stroke="#000" stroke-width="0.85"/>
<circle cx="87.58" cy="218.11" r="1.40" fill="#fff" stroke="#000" stroke-width="0.85"/>
<line x1="52.05" y1="256.81" x2="52.05" y2="254.62" stroke="#000" stroke-width="0.95"/>
<line x1="49.85" y1="254.62" x2="54.25" y2="254.62" stroke="#000" stroke-width="0.95"/>
<line x1="59.51" y1="247.48" x2="59.51" y2="244.74" stroke="#000" stroke-width="0.95"/>
<line x1="57.31" y1="244.74" x2="61.71" y2="244.74" stroke="#000" stroke-width="0.95"/>
<line x1="67.06" y1="240.07" x2="67.06" y2="237.60" stroke="#000" stroke-width="0.95"/>
<line x1="64.86" y1="237.60" x2="69.26" y2="237.60" stroke="#000" stroke-width="0.95"/>
<line x1="75.38" y1="229.09" x2="75.38" y2="226.34" stroke="#000" stroke-width="0.95"/>
<line x1="73.18" y1="226.34" x2="77.58" y2="226.34" stroke="#000" stroke-width="0.95"/>
<line x1="81.19" y1="221.13" x2="81.19" y2="218.38" stroke="#000" stroke-width="0.95"/>
<line x1="78.99" y1="218.38" x2="83.39" y2="218.38" stroke="#000" stroke-width="0.95"/>
<line x1="87.87" y1="215.36" x2="87.87" y2="213.72" stroke="#000" stroke-width="0.95"/>
<line x1="85.67" y1="213.72" x2="90.07" y2="213.72" stroke="#000" stroke-width="0.95"/>
<polyline points="29.50,264.50 34.34,264.50 39.18,264.50 42.86,263.68 46.92,262.30 52.05,256.81 59.51,247.48 67.06,240.07 75.38,229.09 81.19,221.13 87.87,215.36" fill="none" stroke="#000" stroke-width="1.0" stroke-linejoin="round"/>
<circle cx="29.50" cy="264.50" r="1.70" fill="#000"/>
<circle cx="34.34" cy="264.50" r="1.70" fill="#000"/>
<circle cx="39.18" cy="264.50" r="1.70" fill="#000"/>
<circle cx="42.86" cy="263.68" r="1.70" fill="#000"/>
<circle cx="46.92" cy="262.30" r="1.70" fill="#000"/>
<circle cx="52.05" cy="256.81" r="1.70" fill="#000"/>
<circle cx="59.51" cy="247.48" r="1.70" fill="#000"/>
<circle cx="67.06" cy="240.07" r="1.70" fill="#000"/>
<circle cx="75.38" cy="229.09" r="1.70" fill="#000"/>
<circle cx="81.19" cy="221.13" r="1.70" fill="#000"/>
<circle cx="87.87" cy="215.36" r="1.70" fill="#000"/>
<line x1="126.50" y1="212.00" x2="126.50" y2="265.10" stroke="#000" stroke-width="1.15"/>
<line x1="125.90" y1="264.50" x2="181.52" y2="264.50" stroke="#000" stroke-width="1.15"/>
<line x1="124.90" y1="264.50" x2="126.50" y2="264.50" stroke="#000" stroke-width="0.8"/>
<text x="123.10" y="266.10" font-size="4.5" text-anchor="end" fill="#000">0</text>
<line x1="124.90" y1="252.18" x2="126.50" y2="252.18" stroke="#000" stroke-width="0.8"/>
<text x="123.10" y="253.78" font-size="4.5" text-anchor="end" fill="#000">3</text>
<line x1="124.90" y1="239.85" x2="126.50" y2="239.85" stroke="#000" stroke-width="0.8"/>
<text x="123.10" y="241.45" font-size="4.5" text-anchor="end" fill="#000">6</text>
<line x1="124.90" y1="227.53" x2="126.50" y2="227.53" stroke="#000" stroke-width="0.8"/>
<text x="123.10" y="229.13" font-size="4.5" text-anchor="end" fill="#000">9</text>
<line x1="124.90" y1="215.20" x2="126.50" y2="215.20" stroke="#000" stroke-width="0.8"/>
<text x="123.10" y="216.80" font-size="4.5" text-anchor="end" fill="#000">12</text>
<line x1="126.50" y1="264.50" x2="126.50" y2="266.10" stroke="#000" stroke-width="0.8"/>
<text x="126.50" y="273.60" font-size="4.5" text-anchor="middle" fill="#000">0</text>
<line x1="144.84" y1="264.50" x2="144.84" y2="266.10" stroke="#000" stroke-width="0.8"/>
<text x="144.84" y="273.60" font-size="4.5" text-anchor="middle" fill="#000">20</text>
<line x1="163.18" y1="264.50" x2="163.18" y2="266.10" stroke="#000" stroke-width="0.8"/>
<text x="163.18" y="273.60" font-size="4.5" text-anchor="middle" fill="#000">40</text>
<line x1="181.52" y1="264.50" x2="181.52" y2="266.10" stroke="#000" stroke-width="0.8"/>
<text x="181.52" y="273.60" font-size="4.5" text-anchor="middle" fill="#000">60</text>
<polyline points="126.50,264.50 131.09,262.86 136.59,260.80 142.09,260.80 148.51,261.21 154.93,260.80 161.35,261.21 167.76,260.80 174.18,260.80 180.60,261.21" fill="none" stroke="#000" stroke-width="1.0" stroke-linejoin="round"/>
<rect x="125.10" y="263.10" width="2.80" height="2.80" fill="#fff" stroke="#000" stroke-width="0.85"/>
<rect x="129.69" y="261.46" width="2.80" height="2.80" fill="#fff" stroke="#000" stroke-width="0.85"/>
<rect x="135.19" y="259.40" width="2.80" height="2.80" fill="#fff" stroke="#000" stroke-width="0.85"/>
<rect x="140.69" y="259.40" width="2.80" height="2.80" fill="#fff" stroke="#000" stroke-width="0.85"/>
<rect x="147.11" y="259.81" width="2.80" height="2.80" fill="#fff" stroke="#000" stroke-width="0.85"/>
<rect x="153.53" y="259.40" width="2.80" height="2.80" fill="#fff" stroke="#000" stroke-width="0.85"/>
<rect x="159.95" y="259.81" width="2.80" height="2.80" fill="#fff" stroke="#000" stroke-width="0.85"/>
<rect x="166.36" y="259.40" width="2.80" height="2.80" fill="#fff" stroke="#000" stroke-width="0.85"/>
<rect x="172.78" y="259.40" width="2.80" height="2.80" fill="#fff" stroke="#000" stroke-width="0.85"/>
<rect x="179.20" y="259.81" width="2.80" height="2.80" fill="#fff" stroke="#000" stroke-width="0.85"/>
<polyline points="128.79,263.68 133.84,261.62 139.34,260.80 145.30,260.80 151.72,260.39 158.14,261.21 164.56,260.39 170.97,260.80 177.39,260.80 181.52,261.21" fill="none" stroke="#000" stroke-width="1.0" stroke-linejoin="round"/>
<circle cx="128.79" cy="263.68" r="1.40" fill="#fff" stroke="#000" stroke-width="0.85"/>
<circle cx="133.84" cy="261.62" r="1.40" fill="#fff" stroke="#000" stroke-width="0.85"/>
<circle cx="139.34" cy="260.80" r="1.40" fill="#fff" stroke="#000" stroke-width="0.85"/>
<circle cx="145.30" cy="260.80" r="1.40" fill="#fff" stroke="#000" stroke-width="0.85"/>
<circle cx="151.72" cy="260.39" r="1.40" fill="#fff" stroke="#000" stroke-width="0.85"/>
<circle cx="158.14" cy="261.21" r="1.40" fill="#fff" stroke="#000" stroke-width="0.85"/>
<circle cx="164.56" cy="260.39" r="1.40" fill="#fff" stroke="#000" stroke-width="0.85"/>
<circle cx="170.97" cy="260.80" r="1.40" fill="#fff" stroke="#000" stroke-width="0.85"/>
<circle cx="177.39" cy="260.80" r="1.40" fill="#fff" stroke="#000" stroke-width="0.85"/>
<circle cx="181.52" cy="261.21" r="1.40" fill="#fff" stroke="#000" stroke-width="0.85"/>
<line x1="153.92" y1="246.59" x2="153.92" y2="243.10" stroke="#000" stroke-width="0.95"/>
<line x1="151.72" y1="243.10" x2="156.12" y2="243.10" stroke="#000" stroke-width="0.95"/>
<line x1="161.44" y1="240.26" x2="161.44" y2="236.98" stroke="#000" stroke-width="0.95"/>
<line x1="159.24" y1="236.98" x2="163.64" y2="236.98" stroke="#000" stroke-width="0.95"/>
<line x1="168.77" y1="234.63" x2="168.77" y2="230.94" stroke="#000" stroke-width="0.95"/>
<line x1="166.57" y1="230.94" x2="170.97" y2="230.94" stroke="#000" stroke-width="0.95"/>
<line x1="176.20" y1="231.64" x2="176.20" y2="226.50" stroke="#000" stroke-width="0.95"/>
<line x1="174.00" y1="226.50" x2="178.40" y2="226.50" stroke="#000" stroke-width="0.95"/>
<polyline points="126.50,264.50 129.25,263.27 135.30,260.80 146.49,254.81 153.92,246.59 161.44,240.26 168.77,234.63 176.20,231.64 183.35,229.99" fill="none" stroke="#000" stroke-width="1.0" stroke-linejoin="round"/>
<circle cx="126.50" cy="264.50" r="1.40" fill="#fff" stroke="#000" stroke-width="0.85"/>
<circle cx="129.25" cy="263.27" r="1.40" fill="#fff" stroke="#000" stroke-width="0.85"/>
<circle cx="135.30" cy="260.80" r="1.40" fill="#fff" stroke="#000" stroke-width="0.85"/>
<circle cx="146.49" cy="254.81" r="1.40" fill="#fff" stroke="#000" stroke-width="0.85"/>
<circle cx="153.92" cy="246.59" r="1.40" fill="#fff" stroke="#000" stroke-width="0.85"/>
<circle cx="161.44" cy="240.26" r="1.40" fill="#fff" stroke="#000" stroke-width="0.85"/>
<circle cx="168.77" cy="234.63" r="1.40" fill="#fff" stroke="#000" stroke-width="0.85"/>
<circle cx="176.20" cy="231.64" r="1.40" fill="#fff" stroke="#000" stroke-width="0.85"/>
<line x1="142.73" y1="250.94" x2="142.73" y2="249.71" stroke="#000" stroke-width="0.95"/>
<line x1="140.53" y1="249.71" x2="144.93" y2="249.71" stroke="#000" stroke-width="0.95"/>
<line x1="150.43" y1="238.78" x2="150.43" y2="235.58" stroke="#000" stroke-width="0.95"/>
<line x1="148.23" y1="235.58" x2="152.63" y2="235.58" stroke="#000" stroke-width="0.95"/>
<line x1="157.59" y1="229.42" x2="157.59" y2="225.31" stroke="#000" stroke-width="0.95"/>
<line x1="155.39" y1="225.31" x2="159.79" y2="225.31" stroke="#000" stroke-width="0.95"/>
<line x1="165.38" y1="222.19" x2="165.38" y2="218.37" stroke="#000" stroke-width="0.95"/>
<line x1="163.18" y1="218.37" x2="167.58" y2="218.37" stroke="#000" stroke-width="0.95"/>
<line x1="172.81" y1="217.38" x2="172.81" y2="213.56" stroke="#000" stroke-width="0.95"/>
<line x1="170.61" y1="213.56" x2="175.01" y2="213.56" stroke="#000" stroke-width="0.95"/>
<line x1="179.96" y1="213.97" x2="179.96" y2="211.10" stroke="#000" stroke-width="0.95"/>
<line x1="177.76" y1="211.10" x2="182.16" y2="211.10" stroke="#000" stroke-width="0.95"/>
<polyline points="126.50,264.50 129.25,263.27 135.30,260.80 142.73,250.94 150.43,238.78 157.59,229.42 165.38,222.19 172.81,217.38 179.96,213.97 182.90,213.15" fill="none" stroke="#000" stroke-width="1.0" stroke-linejoin="round"/>
<circle cx="126.50" cy="264.50" r="1.70" fill="#000"/>
<circle cx="129.25" cy="263.27" r="1.70" fill="#000"/>
<circle cx="135.30" cy="260.80" r="1.70" fill="#000"/>
<circle cx="142.73" cy="250.94" r="1.70" fill="#000"/>
<circle cx="150.43" cy="238.78" r="1.70" fill="#000"/>
<circle cx="157.59" cy="229.42" r="1.70" fill="#000"/>
<circle cx="165.38" cy="222.19" r="1.70" fill="#000"/>
<circle cx="172.81" cy="217.38" r="1.70" fill="#000"/>
<circle cx="179.96" cy="213.97" r="1.70" fill="#000"/>
<line x1="217.50" y1="211.50" x2="217.50" y2="265.10" stroke="#000" stroke-width="1.15"/>
<line x1="216.90" y1="264.50" x2="273.72" y2="264.50" stroke="#000" stroke-width="1.15"/>
<line x1="215.90" y1="264.50" x2="217.50" y2="264.50" stroke="#000" stroke-width="0.8"/>
<text x="214.10" y="266.10" font-size="4.5" text-anchor="end" fill="#000">0</text>
<line x1="215.90" y1="251.75" x2="217.50" y2="251.75" stroke="#000" stroke-width="0.8"/>
<text x="214.10" y="253.35" font-size="4.5" text-anchor="end" fill="#000">10</text>
<line x1="215.90" y1="239.00" x2="217.50" y2="239.00" stroke="#000" stroke-width="0.8"/>
<text x="214.10" y="240.60" font-size="4.5" text-anchor="end" fill="#000">20</text>
<line x1="215.90" y1="226.25" x2="217.50" y2="226.25" stroke="#000" stroke-width="0.8"/>
<text x="214.10" y="227.85" font-size="4.5" text-anchor="end" fill="#000">30</text>
<line x1="215.90" y1="213.50" x2="217.50" y2="213.50" stroke="#000" stroke-width="0.8"/>
<text x="214.10" y="215.10" font-size="4.5" text-anchor="end" fill="#000">40</text>
<line x1="217.50" y1="264.50" x2="217.50" y2="266.10" stroke="#000" stroke-width="0.8"/>
<text x="217.50" y="273.60" font-size="4.5" text-anchor="middle" fill="#000">0</text>
<line x1="236.24" y1="264.50" x2="236.24" y2="266.10" stroke="#000" stroke-width="0.8"/>
<text x="236.24" y="273.60" font-size="4.5" text-anchor="middle" fill="#000">20</text>
<line x1="254.98" y1="264.50" x2="254.98" y2="266.10" stroke="#000" stroke-width="0.8"/>
<text x="254.98" y="273.60" font-size="4.5" text-anchor="middle" fill="#000">40</text>
<line x1="273.72" y1="264.50" x2="273.72" y2="266.10" stroke="#000" stroke-width="0.8"/>
<text x="273.72" y="273.60" font-size="4.5" text-anchor="middle" fill="#000">60</text>
<polyline points="217.50,264.50 220.78,263.29 224.06,258.73 227.34,252.70 230.62,245.95 233.90,239.25 237.18,232.37 240.46,225.35 243.74,220.54 247.02,217.46 250.30,215.65 253.57,215.48 256.85,215.51 260.13,215.69 263.41,215.87 266.69,215.92 269.97,215.92 273.25,215.92" fill="none" stroke="#000" stroke-width="1.0" stroke-linejoin="round"/>
<rect x="216.10" y="263.10" width="2.80" height="2.80" fill="#fff" stroke="#000" stroke-width="0.85"/>
<rect x="219.38" y="261.89" width="2.80" height="2.80" fill="#fff" stroke="#000" stroke-width="0.85"/>
<rect x="222.66" y="257.33" width="2.80" height="2.80" fill="#fff" stroke="#000" stroke-width="0.85"/>
<rect x="225.94" y="251.30" width="2.80" height="2.80" fill="#fff" stroke="#000" stroke-width="0.85"/>
<rect x="229.22" y="244.55" width="2.80" height="2.80" fill="#fff" stroke="#000" stroke-width="0.85"/>
<rect x="232.50" y="237.85" width="2.80" height="2.80" fill="#fff" stroke="#000" stroke-width="0.85"/>
<rect x="235.78" y="230.97" width="2.80" height="2.80" fill="#fff" stroke="#000" stroke-width="0.85"/>
<rect x="239.06" y="223.95" width="2.80" height="2.80" fill="#fff" stroke="#000" stroke-width="0.85"/>
<rect x="242.34" y="219.14" width="2.80" height="2.80" fill="#fff" stroke="#000" stroke-width="0.85"/>
<rect x="245.62" y="216.06" width="2.80" height="2.80" fill="#fff" stroke="#000" stroke-width="0.85"/>
<rect x="248.90" y="214.25" width="2.80" height="2.80" fill="#fff" stroke="#000" stroke-width="0.85"/>
<rect x="252.17" y="214.08" width="2.80" height="2.80" fill="#fff" stroke="#000" stroke-width="0.85"/>
<rect x="255.45" y="214.11" width="2.80" height="2.80" fill="#fff" stroke="#000" stroke-width="0.85"/>
<rect x="258.73" y="214.29" width="2.80" height="2.80" fill="#fff" stroke="#000" stroke-width="0.85"/>
<rect x="262.01" y="214.47" width="2.80" height="2.80" fill="#fff" stroke="#000" stroke-width="0.85"/>
<rect x="265.29" y="214.52" width="2.80" height="2.80" fill="#fff" stroke="#000" stroke-width="0.85"/>
<rect x="268.57" y="214.52" width="2.80" height="2.80" fill="#fff" stroke="#000" stroke-width="0.85"/>
<rect x="271.85" y="214.52" width="2.80" height="2.80" fill="#fff" stroke="#000" stroke-width="0.85"/>
<polyline points="217.50,264.50 220.78,261.99 224.06,256.17 227.34,249.20 230.62,241.78 233.90,234.54 237.18,227.90 240.46,221.92 243.74,218.42 247.02,216.12 250.30,215.09 253.57,215.14 256.85,215.26 260.13,215.43 263.41,215.55 266.69,215.62 269.97,215.67 273.25,215.67" fill="none" stroke="#000" stroke-width="1.0" stroke-linejoin="round"/>
<circle cx="217.50" cy="264.50" r="1.40" fill="#fff" stroke="#000" stroke-width="0.85"/>
<circle cx="220.78" cy="261.99" r="1.40" fill="#fff" stroke="#000" stroke-width="0.85"/>
<circle cx="224.06" cy="256.17" r="1.40" fill="#fff" stroke="#000" stroke-width="0.85"/>
<circle cx="227.34" cy="249.20" r="1.40" fill="#fff" stroke="#000" stroke-width="0.85"/>
<circle cx="230.62" cy="241.78" r="1.40" fill="#fff" stroke="#000" stroke-width="0.85"/>
<circle cx="233.90" cy="234.54" r="1.40" fill="#fff" stroke="#000" stroke-width="0.85"/>
<circle cx="237.18" cy="227.90" r="1.40" fill="#fff" stroke="#000" stroke-width="0.85"/>
<circle cx="240.46" cy="221.92" r="1.40" fill="#fff" stroke="#000" stroke-width="0.85"/>
<circle cx="243.74" cy="218.42" r="1.40" fill="#fff" stroke="#000" stroke-width="0.85"/>
<circle cx="247.02" cy="216.12" r="1.40" fill="#fff" stroke="#000" stroke-width="0.85"/>
<circle cx="250.30" cy="215.09" r="1.40" fill="#fff" stroke="#000" stroke-width="0.85"/>
<circle cx="253.57" cy="215.14" r="1.40" fill="#fff" stroke="#000" stroke-width="0.85"/>
<circle cx="256.85" cy="215.26" r="1.40" fill="#fff" stroke="#000" stroke-width="0.85"/>
<circle cx="260.13" cy="215.43" r="1.40" fill="#fff" stroke="#000" stroke-width="0.85"/>
<circle cx="263.41" cy="215.55" r="1.40" fill="#fff" stroke="#000" stroke-width="0.85"/>
<circle cx="266.69" cy="215.62" r="1.40" fill="#fff" stroke="#000" stroke-width="0.85"/>
<circle cx="269.97" cy="215.67" r="1.40" fill="#fff" stroke="#000" stroke-width="0.85"/>
<circle cx="273.25" cy="215.67" r="1.40" fill="#fff" stroke="#000" stroke-width="0.85"/>
<polyline points="217.50,264.50 220.78,260.74 224.06,253.68 227.34,245.80 230.62,237.74 233.90,229.95 237.18,223.57 240.46,218.59 243.74,216.37 247.02,214.36 250.30,213.77 253.57,214.03 256.85,214.24 260.13,214.40 263.41,214.46 266.69,214.56 269.97,214.65 273.25,214.65" fill="none" stroke="#000" stroke-width="1.0" stroke-linejoin="round"/>
<polygon points="217.50,262.70 219.30,264.50 217.50,266.30 215.70,264.50" fill="#fff" stroke="#000" stroke-width="0.75"/>
<polygon points="220.78,258.94 222.58,260.74 220.78,262.54 218.98,260.74" fill="#fff" stroke="#000" stroke-width="0.75"/>
<polygon points="224.06,251.88 225.86,253.68 224.06,255.48 222.26,253.68" fill="#fff" stroke="#000" stroke-width="0.75"/>
<polygon points="227.34,244.00 229.14,245.80 227.34,247.60 225.54,245.80" fill="#fff" stroke="#000" stroke-width="0.75"/>
<polygon points="230.62,235.94 232.42,237.74 230.62,239.54 228.82,237.74" fill="#fff" stroke="#000" stroke-width="0.75"/>
<polygon points="233.90,228.15 235.70,229.95 233.90,231.75 232.10,229.95" fill="#fff" stroke="#000" stroke-width="0.75"/>
<polygon points="237.18,221.77 238.98,223.57 237.18,225.37 235.38,223.57" fill="#fff" stroke="#000" stroke-width="0.75"/>
<polygon points="240.46,216.79 242.26,218.59 240.46,220.39 238.66,218.59" fill="#fff" stroke="#000" stroke-width="0.75"/>
<polygon points="243.74,214.57 245.54,216.37 243.74,218.17 241.94,216.37" fill="#fff" stroke="#000" stroke-width="0.75"/>
<polygon points="247.02,212.56 248.82,214.36 247.02,216.16 245.22,214.36" fill="#fff" stroke="#000" stroke-width="0.75"/>
<polygon points="250.30,211.97 252.10,213.77 250.30,215.57 248.50,213.77" fill="#fff" stroke="#000" stroke-width="0.75"/>
<polygon points="253.57,212.23 255.37,214.03 253.57,215.83 251.77,214.03" fill="#fff" stroke="#000" stroke-width="0.75"/>
<polygon points="256.85,212.44 258.65,214.24 256.85,216.04 255.05,214.24" fill="#fff" stroke="#000" stroke-width="0.75"/>
<polygon points="260.13,212.60 261.93,214.40 260.13,216.20 258.33,214.40" fill="#fff" stroke="#000" stroke-width="0.75"/>
<polygon points="263.41,212.66 265.21,214.46 263.41,216.26 261.61,214.46" fill="#fff" stroke="#000" stroke-width="0.75"/>
<polygon points="266.69,212.76 268.49,214.56 266.69,216.36 264.89,214.56" fill="#fff" stroke="#000" stroke-width="0.75"/>
<polygon points="269.97,212.85 271.77,214.65 269.97,216.45 268.17,214.65" fill="#fff" stroke="#000" stroke-width="0.75"/>
<polygon points="273.25,212.85 275.05,214.65 273.25,216.45 271.45,214.65" fill="#fff" stroke="#000" stroke-width="0.75"/>
<line x1="227.34" y1="242.40" x2="227.34" y2="240.49" stroke="#000" stroke-width="0.95"/>
<line x1="225.14" y1="240.49" x2="229.54" y2="240.49" stroke="#000" stroke-width="0.95"/>
<line x1="230.62" y1="233.69" x2="230.62" y2="231.14" stroke="#000" stroke-width="0.95"/>
<line x1="228.42" y1="231.14" x2="232.82" y2="231.14" stroke="#000" stroke-width="0.95"/>
<line x1="233.90" y1="225.37" x2="233.90" y2="222.82" stroke="#000" stroke-width="0.95"/>
<line x1="231.70" y1="222.82" x2="236.10" y2="222.82" stroke="#000" stroke-width="0.95"/>
<line x1="237.18" y1="219.24" x2="237.18" y2="216.69" stroke="#000" stroke-width="0.95"/>
<line x1="234.98" y1="216.69" x2="239.38" y2="216.69" stroke="#000" stroke-width="0.95"/>
<line x1="240.46" y1="215.26" x2="240.46" y2="212.71" stroke="#000" stroke-width="0.95"/>
<line x1="238.26" y1="212.71" x2="242.66" y2="212.71" stroke="#000" stroke-width="0.95"/>
<line x1="243.74" y1="214.31" x2="243.74" y2="212.40" stroke="#000" stroke-width="0.95"/>
<line x1="241.54" y1="212.40" x2="245.94" y2="212.40" stroke="#000" stroke-width="0.95"/>
<line x1="247.02" y1="213.58" x2="247.02" y2="212.30" stroke="#000" stroke-width="0.95"/>
<line x1="244.82" y1="212.30" x2="249.22" y2="212.30" stroke="#000" stroke-width="0.95"/>
<line x1="250.30" y1="214.11" x2="250.30" y2="212.84" stroke="#000" stroke-width="0.95"/>
<line x1="248.10" y1="212.84" x2="252.50" y2="212.84" stroke="#000" stroke-width="0.95"/>
<polyline points="217.50,264.50 220.78,259.48 224.06,251.19 227.34,242.40 230.62,233.69 233.90,225.37 237.18,219.24 240.46,215.26 243.74,214.31 247.02,213.58 250.30,214.11 253.57,214.58 256.85,214.88 260.13,215.03 263.41,215.03 266.69,215.16 269.97,215.28 273.25,215.28" fill="none" stroke="#000" stroke-width="1.0" stroke-linejoin="round"/>
<circle cx="217.50" cy="264.50" r="1.70" fill="#000"/>
<circle cx="220.78" cy="259.48" r="1.70" fill="#000"/>
<circle cx="224.06" cy="251.19" r="1.70" fill="#000"/>
<circle cx="227.34" cy="242.40" r="1.70" fill="#000"/>
<circle cx="230.62" cy="233.69" r="1.70" fill="#000"/>
<circle cx="233.90" cy="225.37" r="1.70" fill="#000"/>
<circle cx="237.18" cy="219.24" r="1.70" fill="#000"/>
<circle cx="240.46" cy="215.26" r="1.70" fill="#000"/>
<circle cx="243.74" cy="214.31" r="1.70" fill="#000"/>
<circle cx="247.02" cy="213.58" r="1.70" fill="#000"/>
<circle cx="250.30" cy="214.11" r="1.70" fill="#000"/>
<circle cx="253.57" cy="214.58" r="1.70" fill="#000"/>
<circle cx="256.85" cy="214.88" r="1.70" fill="#000"/>
<circle cx="260.13" cy="215.03" r="1.70" fill="#000"/>
<circle cx="263.41" cy="215.03" r="1.70" fill="#000"/>
<circle cx="266.69" cy="215.16" r="1.70" fill="#000"/>
<circle cx="269.97" cy="215.28" r="1.70" fill="#000"/>
<circle cx="273.25" cy="215.28" r="1.70" fill="#000"/>
<line x1="314.00" y1="211.60" x2="314.00" y2="267.10" stroke="#000" stroke-width="1.15"/>
<line x1="313.40" y1="266.50" x2="371.48" y2="266.50" stroke="#000" stroke-width="1.15"/>
<line x1="312.40" y1="266.50" x2="314.00" y2="266.50" stroke="#000" stroke-width="0.8"/>
<text x="310.60" y="268.10" font-size="4.5" text-anchor="end" fill="#000">0</text>
<line x1="312.40" y1="248.97" x2="314.00" y2="248.97" stroke="#000" stroke-width="0.8"/>
<text x="310.60" y="250.57" font-size="4.5" text-anchor="end" fill="#000">0.1</text>
<line x1="312.40" y1="231.44" x2="314.00" y2="231.44" stroke="#000" stroke-width="0.8"/>
<text x="310.60" y="233.04" font-size="4.5" text-anchor="end" fill="#000">0.2</text>
<line x1="312.40" y1="213.91" x2="314.00" y2="213.91" stroke="#000" stroke-width="0.8"/>
<text x="310.60" y="215.51" font-size="4.5" text-anchor="end" fill="#000">0.3</text>
<line x1="314.00" y1="266.50" x2="314.00" y2="268.10" stroke="#000" stroke-width="0.8"/>
<text x="314.00" y="275.60" font-size="4.5" text-anchor="middle" fill="#000">0</text>
<line x1="333.16" y1="266.50" x2="333.16" y2="268.10" stroke="#000" stroke-width="0.8"/>
<text x="333.16" y="275.60" font-size="4.5" text-anchor="middle" fill="#000">20</text>
<line x1="352.32" y1="266.50" x2="352.32" y2="268.10" stroke="#000" stroke-width="0.8"/>
<text x="352.32" y="275.60" font-size="4.5" text-anchor="middle" fill="#000">40</text>
<line x1="371.48" y1="266.50" x2="371.48" y2="268.10" stroke="#000" stroke-width="0.8"/>
<text x="371.48" y="275.60" font-size="4.5" text-anchor="middle" fill="#000">60</text>
<polyline points="314.00,265.10 320.71,265.10 327.41,265.10 334.12,265.10 340.82,265.10 347.53,265.10 354.24,265.10 360.94,265.10 367.65,265.10 371.48,265.10" fill="none" stroke="#000" stroke-width="1.0" stroke-linejoin="round"/>
<rect x="312.80" y="263.90" width="2.40" height="2.40" fill="#fff" stroke="#000" stroke-width="0.85"/>
<rect x="319.51" y="263.90" width="2.40" height="2.40" fill="#fff" stroke="#000" stroke-width="0.85"/>
<rect x="326.21" y="263.90" width="2.40" height="2.40" fill="#fff" stroke="#000" stroke-width="0.85"/>
<rect x="332.92" y="263.90" width="2.40" height="2.40" fill="#fff" stroke="#000" stroke-width="0.85"/>
<rect x="339.62" y="263.90" width="2.40" height="2.40" fill="#fff" stroke="#000" stroke-width="0.85"/>
<rect x="346.33" y="263.90" width="2.40" height="2.40" fill="#fff" stroke="#000" stroke-width="0.85"/>
<rect x="353.04" y="263.90" width="2.40" height="2.40" fill="#fff" stroke="#000" stroke-width="0.85"/>
<rect x="359.74" y="263.90" width="2.40" height="2.40" fill="#fff" stroke="#000" stroke-width="0.85"/>
<rect x="366.45" y="263.90" width="2.40" height="2.40" fill="#fff" stroke="#000" stroke-width="0.85"/>
<rect x="370.28" y="263.90" width="2.40" height="2.40" fill="#fff" stroke="#000" stroke-width="0.85"/>
<polyline points="317.35,265.10 324.06,265.10 330.76,265.10 337.47,265.10 344.18,265.10 350.88,265.10 357.59,265.10 364.30,265.10" fill="none" stroke="#000" stroke-width="1.0" stroke-linejoin="round"/>
<circle cx="317.35" cy="265.10" r="1.20" fill="#fff" stroke="#000" stroke-width="0.85"/>
<circle cx="324.06" cy="265.10" r="1.20" fill="#fff" stroke="#000" stroke-width="0.85"/>
<circle cx="330.76" cy="265.10" r="1.20" fill="#fff" stroke="#000" stroke-width="0.85"/>
<circle cx="337.47" cy="265.10" r="1.20" fill="#fff" stroke="#000" stroke-width="0.85"/>
<circle cx="344.18" cy="265.10" r="1.20" fill="#fff" stroke="#000" stroke-width="0.85"/>
<circle cx="350.88" cy="265.10" r="1.20" fill="#fff" stroke="#000" stroke-width="0.85"/>
<circle cx="357.59" cy="265.10" r="1.20" fill="#fff" stroke="#000" stroke-width="0.85"/>
<circle cx="364.30" cy="265.10" r="1.20" fill="#fff" stroke="#000" stroke-width="0.85"/>
<polyline points="314.00,265.10 318.79,265.10 323.58,265.10 332.49,255.28 340.82,237.05 348.01,246.69 355.39,257.03 362.67,261.24 370.04,262.47" fill="none" stroke="#000" stroke-width="1.0" stroke-linejoin="round"/>
<circle cx="314.00" cy="265.10" r="1.40" fill="#fff" stroke="#000" stroke-width="0.85"/>
<circle cx="318.79" cy="265.10" r="1.40" fill="#fff" stroke="#000" stroke-width="0.85"/>
<circle cx="323.58" cy="265.10" r="1.40" fill="#fff" stroke="#000" stroke-width="0.85"/>
<circle cx="332.49" cy="255.28" r="1.40" fill="#fff" stroke="#000" stroke-width="0.85"/>
<circle cx="340.82" cy="237.05" r="1.40" fill="#fff" stroke="#000" stroke-width="0.85"/>
<circle cx="348.01" cy="246.69" r="1.40" fill="#fff" stroke="#000" stroke-width="0.85"/>
<circle cx="355.39" cy="257.03" r="1.40" fill="#fff" stroke="#000" stroke-width="0.85"/>
<circle cx="362.67" cy="261.24" r="1.40" fill="#fff" stroke="#000" stroke-width="0.85"/>
<circle cx="370.04" cy="262.47" r="1.40" fill="#fff" stroke="#000" stroke-width="0.85"/>
<line x1="330.67" y1="232.14" x2="330.67" y2="230.04" stroke="#000" stroke-width="0.95"/>
<line x1="328.47" y1="230.04" x2="332.87" y2="230.04" stroke="#000" stroke-width="0.95"/>
<line x1="338.33" y1="213.91" x2="338.33" y2="211.81" stroke="#000" stroke-width="0.95"/>
<line x1="336.13" y1="211.81" x2="340.53" y2="211.81" stroke="#000" stroke-width="0.95"/>
<line x1="346.00" y1="217.77" x2="346.00" y2="215.66" stroke="#000" stroke-width="0.95"/>
<line x1="343.80" y1="215.66" x2="348.20" y2="215.66" stroke="#000" stroke-width="0.95"/>
<line x1="353.47" y1="228.99" x2="353.47" y2="226.88" stroke="#000" stroke-width="0.95"/>
<line x1="351.27" y1="226.88" x2="355.67" y2="226.88" stroke="#000" stroke-width="0.95"/>
<line x1="361.13" y1="238.10" x2="361.13" y2="236.00" stroke="#000" stroke-width="0.95"/>
<line x1="358.93" y1="236.00" x2="363.33" y2="236.00" stroke="#000" stroke-width="0.95"/>
<line x1="368.70" y1="245.29" x2="368.70" y2="243.19" stroke="#000" stroke-width="0.95"/>
<line x1="366.50" y1="243.19" x2="370.90" y2="243.19" stroke="#000" stroke-width="0.95"/>
<polyline points="314.00,265.10 323.01,263.34 330.67,232.14 338.33,213.91 346.00,217.77 353.47,228.99 361.13,238.10 368.70,245.29" fill="none" stroke="#000" stroke-width="1.0" stroke-linejoin="round"/>
<circle cx="314.00" cy="265.10" r="1.70" fill="#000"/>
<circle cx="323.01" cy="263.34" r="1.70" fill="#000"/>
<circle cx="330.67" cy="232.14" r="1.70" fill="#000"/>
<circle cx="338.33" cy="213.91" r="1.70" fill="#000"/>
<circle cx="346.00" cy="217.77" r="1.70" fill="#000"/>
<circle cx="353.47" cy="228.99" r="1.70" fill="#000"/>
<circle cx="361.13" cy="238.10" r="1.70" fill="#000"/>
<circle cx="368.70" cy="245.29" r="1.70" fill="#000"/>
<line x1="29.50" y1="292.20" x2="29.50" y2="346.10" stroke="#000" stroke-width="1.15"/>
<line x1="28.30" y1="345.50" x2="31.30" y2="345.50" stroke="#000" stroke-width="1.15"/>
<line x1="39.60" y1="345.50" x2="89.09" y2="345.50" stroke="#000" stroke-width="1.15"/>
<line x1="27.90" y1="345.50" x2="29.50" y2="345.50" stroke="#000" stroke-width="0.8"/>
<text x="26.10" y="347.10" font-size="4.5" text-anchor="end" fill="#000">0</text>
<line x1="27.90" y1="333.30" x2="29.50" y2="333.30" stroke="#000" stroke-width="0.8"/>
<text x="26.10" y="334.90" font-size="4.5" text-anchor="end" fill="#000">25</text>
<line x1="27.90" y1="321.10" x2="29.50" y2="321.10" stroke="#000" stroke-width="0.8"/>
<text x="26.10" y="322.70" font-size="4.5" text-anchor="end" fill="#000">50</text>
<line x1="27.90" y1="308.90" x2="29.50" y2="308.90" stroke="#000" stroke-width="0.8"/>
<text x="26.10" y="310.50" font-size="4.5" text-anchor="end" fill="#000">75</text>
<line x1="27.90" y1="296.70" x2="29.50" y2="296.70" stroke="#000" stroke-width="0.8"/>
<text x="26.10" y="298.30" font-size="4.5" text-anchor="end" fill="#000">100</text>
<line x1="29.50" y1="345.50" x2="29.50" y2="347.10" stroke="#000" stroke-width="0.8"/>
<text x="29.50" y="353.80" font-size="4.5" text-anchor="middle" fill="#000">0</text>
<line x1="44.60" y1="345.50" x2="44.60" y2="347.10" stroke="#000" stroke-width="0.8"/>
<text x="44.60" y="353.80" font-size="4.5" text-anchor="middle" fill="#000">1</text>
<line x1="58.93" y1="345.50" x2="58.93" y2="347.10" stroke="#000" stroke-width="0.8"/>
<text x="58.93" y="353.80" font-size="4.5" text-anchor="middle" fill="#000">10</text>
<line x1="73.26" y1="345.50" x2="73.26" y2="347.10" stroke="#000" stroke-width="0.8"/>
<text x="73.26" y="353.80" font-size="4.5" text-anchor="middle" fill="#000">100</text>
<line x1="87.59" y1="345.50" x2="87.59" y2="347.10" stroke="#000" stroke-width="0.8"/>
<text x="87.59" y="353.80" font-size="4.5" text-anchor="middle" fill="#000">1000</text>
<line x1="58.93" y1="302.07" x2="58.93" y2="297.38" stroke="#000" stroke-width="0.95"/>
<line x1="56.73" y1="297.38" x2="61.13" y2="297.38" stroke="#000" stroke-width="0.95"/>
<line x1="63.24" y1="305.19" x2="63.24" y2="300.31" stroke="#000" stroke-width="0.95"/>
<line x1="61.04" y1="300.31" x2="65.44" y2="300.31" stroke="#000" stroke-width="0.95"/>
<line x1="65.77" y1="317.39" x2="65.77" y2="311.54" stroke="#000" stroke-width="0.95"/>
<line x1="63.57" y1="311.54" x2="67.97" y2="311.54" stroke="#000" stroke-width="0.95"/>
<line x1="68.95" y1="337.30" x2="68.95" y2="334.37" stroke="#000" stroke-width="0.95"/>
<line x1="66.75" y1="334.37" x2="71.15" y2="334.37" stroke="#000" stroke-width="0.95"/>
<line x1="29.50" y1="296.70" x2="33.04" y2="297.35" stroke="#000" stroke-width="1.0"/>
<polyline points="39.60,298.54 58.93,302.07 63.24,305.19 65.77,317.39 68.95,337.30 73.26,345.50 87.59,345.50" fill="none" stroke="#000" stroke-width="1.0" stroke-linejoin="round"/>
<circle cx="29.50" cy="296.70" r="1.90" fill="#000"/>
<circle cx="58.93" cy="302.07" r="1.90" fill="#000"/>
<circle cx="63.24" cy="305.19" r="1.90" fill="#000"/>
<circle cx="65.77" cy="317.39" r="1.90" fill="#000"/>
<circle cx="68.95" cy="337.30" r="1.90" fill="#000"/>
<circle cx="73.26" cy="345.50" r="1.90" fill="#000"/>
<circle cx="87.59" cy="345.50" r="1.90" fill="#000"/>
<line x1="125.00" y1="293.00" x2="125.00" y2="346.10" stroke="#000" stroke-width="1.15"/>
<line x1="123.80" y1="345.50" x2="126.80" y2="345.50" stroke="#000" stroke-width="1.15"/>
<line x1="134.60" y1="345.50" x2="183.79" y2="345.50" stroke="#000" stroke-width="1.15"/>
<line x1="123.40" y1="345.50" x2="125.00" y2="345.50" stroke="#000" stroke-width="0.8"/>
<text x="121.60" y="347.10" font-size="4.5" text-anchor="end" fill="#000">0</text>
<line x1="123.40" y1="335.96" x2="125.00" y2="335.96" stroke="#000" stroke-width="0.8"/>
<text x="121.60" y="337.56" font-size="4.5" text-anchor="end" fill="#000">25</text>
<line x1="123.40" y1="326.42" x2="125.00" y2="326.42" stroke="#000" stroke-width="0.8"/>
<text x="121.60" y="328.02" font-size="4.5" text-anchor="end" fill="#000">50</text>
<line x1="123.40" y1="316.88" x2="125.00" y2="316.88" stroke="#000" stroke-width="0.8"/>
<text x="121.60" y="318.48" font-size="4.5" text-anchor="end" fill="#000">75</text>
<line x1="123.40" y1="307.34" x2="125.00" y2="307.34" stroke="#000" stroke-width="0.8"/>
<text x="121.60" y="308.94" font-size="4.5" text-anchor="end" fill="#000">100</text>
<line x1="123.40" y1="297.80" x2="125.00" y2="297.80" stroke="#000" stroke-width="0.8"/>
<text x="121.60" y="299.40" font-size="4.5" text-anchor="end" fill="#000">125</text>
<line x1="125.00" y1="345.50" x2="125.00" y2="347.10" stroke="#000" stroke-width="0.8"/>
<text x="125.00" y="353.80" font-size="4.5" text-anchor="middle" fill="#000">0</text>
<line x1="139.60" y1="345.50" x2="139.60" y2="347.10" stroke="#000" stroke-width="0.8"/>
<text x="139.60" y="353.80" font-size="4.5" text-anchor="middle" fill="#000">1</text>
<line x1="153.83" y1="345.50" x2="153.83" y2="347.10" stroke="#000" stroke-width="0.8"/>
<text x="153.83" y="353.80" font-size="4.5" text-anchor="middle" fill="#000">10</text>
<line x1="168.06" y1="345.50" x2="168.06" y2="347.10" stroke="#000" stroke-width="0.8"/>
<text x="168.06" y="353.80" font-size="4.5" text-anchor="middle" fill="#000">100</text>
<line x1="182.29" y1="345.50" x2="182.29" y2="347.10" stroke="#000" stroke-width="0.8"/>
<text x="182.29" y="353.80" font-size="4.5" text-anchor="middle" fill="#000">1000</text>
<line x1="146.39" y1="296.66" x2="146.39" y2="292.46" stroke="#000" stroke-width="0.95"/>
<line x1="144.19" y1="292.46" x2="148.59" y2="292.46" stroke="#000" stroke-width="0.95"/>
<line x1="153.83" y1="324.51" x2="153.83" y2="320.70" stroke="#000" stroke-width="0.95"/>
<line x1="151.63" y1="320.70" x2="156.03" y2="320.70" stroke="#000" stroke-width="0.95"/>
<line x1="158.11" y1="321.46" x2="158.11" y2="319.93" stroke="#000" stroke-width="0.95"/>
<line x1="155.91" y1="319.93" x2="160.31" y2="319.93" stroke="#000" stroke-width="0.95"/>
<line x1="125.00" y1="307.34" x2="128.22" y2="305.73" stroke="#000" stroke-width="1.0"/>
<polyline points="134.60,302.54 146.39,296.66 153.83,324.51 158.11,321.46 160.62,335.58 163.78,339.39 168.06,339.78 182.29,339.78" fill="none" stroke="#000" stroke-width="1.0" stroke-linejoin="round"/>
<circle cx="125.00" cy="307.34" r="1.90" fill="#000"/>
<circle cx="146.39" cy="296.66" r="1.90" fill="#000"/>
<circle cx="153.83" cy="324.51" r="1.90" fill="#000"/>
<circle cx="158.11" cy="321.46" r="1.90" fill="#000"/>
<circle cx="160.62" cy="335.58" r="1.90" fill="#000"/>
<circle cx="163.78" cy="339.39" r="1.90" fill="#000"/>
<circle cx="168.06" cy="339.78" r="1.90" fill="#000"/>
<circle cx="182.29" cy="339.78" r="1.90" fill="#000"/>
<line x1="217.00" y1="292.90" x2="217.00" y2="344.10" stroke="#000" stroke-width="1.15"/>
<line x1="215.80" y1="343.50" x2="218.80" y2="343.50" stroke="#000" stroke-width="1.15"/>
<line x1="226.50" y1="343.50" x2="275.30" y2="343.50" stroke="#000" stroke-width="1.15"/>
<line x1="215.40" y1="343.50" x2="217.00" y2="343.50" stroke="#000" stroke-width="0.8"/>
<text x="213.60" y="345.10" font-size="4.5" text-anchor="end" fill="#000">0</text>
<line x1="215.40" y1="331.07" x2="217.00" y2="331.07" stroke="#000" stroke-width="0.8"/>
<text x="213.60" y="332.68" font-size="4.5" text-anchor="end" fill="#000">25</text>
<line x1="215.40" y1="318.65" x2="217.00" y2="318.65" stroke="#000" stroke-width="0.8"/>
<text x="213.60" y="320.25" font-size="4.5" text-anchor="end" fill="#000">50</text>
<line x1="215.40" y1="306.23" x2="217.00" y2="306.23" stroke="#000" stroke-width="0.8"/>
<text x="213.60" y="307.83" font-size="4.5" text-anchor="end" fill="#000">75</text>
<line x1="215.40" y1="293.80" x2="217.00" y2="293.80" stroke="#000" stroke-width="0.8"/>
<text x="213.60" y="295.40" font-size="4.5" text-anchor="end" fill="#000">100</text>
<line x1="217.00" y1="343.50" x2="217.00" y2="345.10" stroke="#000" stroke-width="0.8"/>
<text x="217.00" y="351.80" font-size="4.5" text-anchor="middle" fill="#000">0</text>
<line x1="231.50" y1="343.50" x2="231.50" y2="345.10" stroke="#000" stroke-width="0.8"/>
<text x="231.50" y="351.80" font-size="4.5" text-anchor="middle" fill="#000">1</text>
<line x1="245.60" y1="343.50" x2="245.60" y2="345.10" stroke="#000" stroke-width="0.8"/>
<text x="245.60" y="351.80" font-size="4.5" text-anchor="middle" fill="#000">10</text>
<line x1="259.70" y1="343.50" x2="259.70" y2="345.10" stroke="#000" stroke-width="0.8"/>
<text x="259.70" y="351.80" font-size="4.5" text-anchor="middle" fill="#000">100</text>
<line x1="273.80" y1="343.50" x2="273.80" y2="345.10" stroke="#000" stroke-width="0.8"/>
<text x="273.80" y="351.80" font-size="4.5" text-anchor="middle" fill="#000">1000</text>
<line x1="245.60" y1="296.78" x2="245.60" y2="295.29" stroke="#000" stroke-width="0.95"/>
<line x1="243.40" y1="295.29" x2="247.80" y2="295.29" stroke="#000" stroke-width="0.95"/>
<line x1="252.33" y1="298.92" x2="252.33" y2="296.93" stroke="#000" stroke-width="0.95"/>
<line x1="250.13" y1="296.93" x2="254.53" y2="296.93" stroke="#000" stroke-width="0.95"/>
<line x1="259.70" y1="296.78" x2="259.70" y2="295.79" stroke="#000" stroke-width="0.95"/>
<line x1="257.50" y1="295.79" x2="261.90" y2="295.79" stroke="#000" stroke-width="0.95"/>
<line x1="273.80" y1="296.78" x2="273.80" y2="295.79" stroke="#000" stroke-width="0.95"/>
<line x1="271.60" y1="295.79" x2="276.00" y2="295.79" stroke="#000" stroke-width="0.95"/>
<line x1="217.00" y1="293.80" x2="220.58" y2="294.17" stroke="#000" stroke-width="1.0"/>
<polyline points="226.50,294.79 245.60,296.78 252.33,298.92 259.70,296.78 273.80,296.78" fill="none" stroke="#000" stroke-width="1.0" stroke-linejoin="round"/>
<circle cx="217.00" cy="293.80" r="1.90" fill="#000"/>
<circle cx="245.60" cy="296.78" r="1.90" fill="#000"/>
<circle cx="252.33" cy="298.92" r="1.90" fill="#000"/>
<circle cx="259.70" cy="296.78" r="1.90" fill="#000"/>
<circle cx="273.80" cy="296.78" r="1.90" fill="#000"/>
<line x1="314.50" y1="291.70" x2="314.50" y2="345.10" stroke="#000" stroke-width="1.15"/>
<line x1="313.30" y1="344.50" x2="316.30" y2="344.50" stroke="#000" stroke-width="1.15"/>
<line x1="323.60" y1="344.50" x2="374.20" y2="344.50" stroke="#000" stroke-width="1.15"/>
<line x1="312.90" y1="344.50" x2="314.50" y2="344.50" stroke="#000" stroke-width="0.8"/>
<text x="311.10" y="346.10" font-size="4.5" text-anchor="end" fill="#000">0</text>
<line x1="312.90" y1="334.50" x2="314.50" y2="334.50" stroke="#000" stroke-width="0.8"/>
<text x="311.10" y="336.10" font-size="4.5" text-anchor="end" fill="#000">25</text>
<line x1="312.90" y1="324.50" x2="314.50" y2="324.50" stroke="#000" stroke-width="0.8"/>
<text x="311.10" y="326.10" font-size="4.5" text-anchor="end" fill="#000">50</text>
<line x1="312.90" y1="314.50" x2="314.50" y2="314.50" stroke="#000" stroke-width="0.8"/>
<text x="311.10" y="316.10" font-size="4.5" text-anchor="end" fill="#000">75</text>
<line x1="312.90" y1="304.50" x2="314.50" y2="304.50" stroke="#000" stroke-width="0.8"/>
<text x="311.10" y="306.10" font-size="4.5" text-anchor="end" fill="#000">100</text>
<line x1="312.90" y1="294.50" x2="314.50" y2="294.50" stroke="#000" stroke-width="0.8"/>
<text x="311.10" y="296.10" font-size="4.5" text-anchor="end" fill="#000">125</text>
<line x1="314.50" y1="344.50" x2="314.50" y2="346.10" stroke="#000" stroke-width="0.8"/>
<text x="314.50" y="352.80" font-size="4.5" text-anchor="middle" fill="#000">0</text>
<line x1="328.60" y1="344.50" x2="328.60" y2="346.10" stroke="#000" stroke-width="0.8"/>
<text x="328.60" y="352.80" font-size="4.5" text-anchor="middle" fill="#000">1</text>
<line x1="343.30" y1="344.50" x2="343.30" y2="346.10" stroke="#000" stroke-width="0.8"/>
<text x="343.30" y="352.80" font-size="4.5" text-anchor="middle" fill="#000">10</text>
<line x1="358.00" y1="344.50" x2="358.00" y2="346.10" stroke="#000" stroke-width="0.8"/>
<text x="358.00" y="352.80" font-size="4.5" text-anchor="middle" fill="#000">100</text>
<line x1="372.70" y1="344.50" x2="372.70" y2="346.10" stroke="#000" stroke-width="0.8"/>
<text x="372.70" y="352.80" font-size="4.5" text-anchor="middle" fill="#000">1000</text>
<line x1="335.61" y1="298.70" x2="335.61" y2="293.90" stroke="#000" stroke-width="0.95"/>
<line x1="333.41" y1="293.90" x2="337.81" y2="293.90" stroke="#000" stroke-width="0.95"/>
<line x1="343.30" y1="326.90" x2="343.30" y2="320.90" stroke="#000" stroke-width="0.95"/>
<line x1="341.10" y1="320.90" x2="345.50" y2="320.90" stroke="#000" stroke-width="0.95"/>
<line x1="347.73" y1="327.42" x2="347.73" y2="322.22" stroke="#000" stroke-width="0.95"/>
<line x1="345.53" y1="322.22" x2="349.93" y2="322.22" stroke="#000" stroke-width="0.95"/>
<line x1="350.31" y1="337.18" x2="350.31" y2="335.98" stroke="#000" stroke-width="0.95"/>
<line x1="348.11" y1="335.98" x2="352.51" y2="335.98" stroke="#000" stroke-width="0.95"/>
<line x1="314.50" y1="304.50" x2="317.97" y2="303.55" stroke="#000" stroke-width="1.0"/>
<polyline points="323.60,302.00 335.61,298.70 343.30,326.90 347.73,327.42 350.31,337.18 353.57,342.58 358.00,344.50 372.70,344.50" fill="none" stroke="#000" stroke-width="1.0" stroke-linejoin="round"/>
<circle cx="314.50" cy="304.50" r="1.90" fill="#000"/>
<circle cx="335.61" cy="298.70" r="1.90" fill="#000"/>
<circle cx="343.30" cy="326.90" r="1.90" fill="#000"/>
<circle cx="347.73" cy="327.42" r="1.90" fill="#000"/>
<circle cx="350.31" cy="337.18" r="1.90" fill="#000"/>
<circle cx="353.57" cy="342.58" r="1.90" fill="#000"/>
<circle cx="358.00" cy="344.50" r="1.90" fill="#000"/>
<circle cx="372.70" cy="344.50" r="1.90" fill="#000"/>
</svg>
</body></html>
